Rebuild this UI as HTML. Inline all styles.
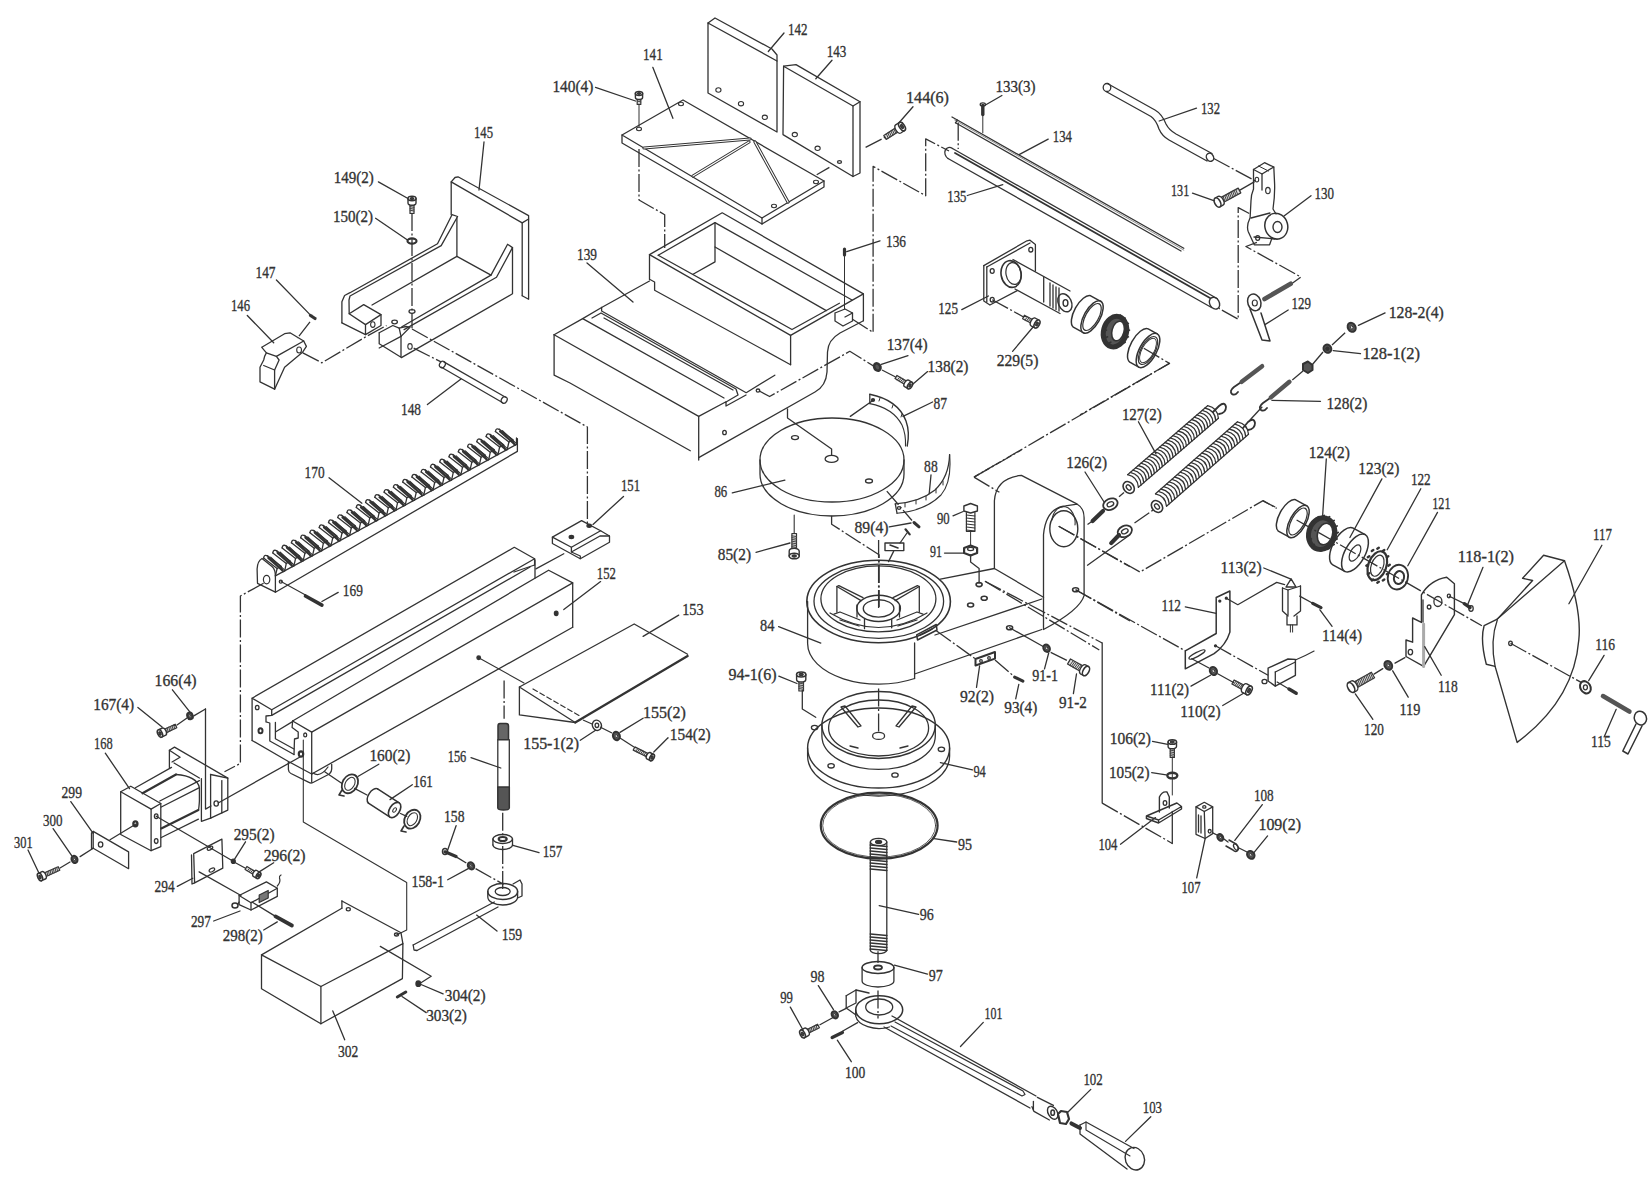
<!DOCTYPE html>
<html><head><meta charset="utf-8"><style>
html,body{margin:0;padding:0;background:#fff;width:1649px;height:1181px;overflow:hidden}
svg{display:block}
polyline,polygon,ellipse,path,line,circle{fill:none;stroke:#333;stroke-width:1.3;stroke-linejoin:round;stroke-linecap:round}
.d{stroke-dasharray:18 2.5 2 2.5;stroke-linecap:butt}
text{font-family:"Liberation Serif",serif;font-size:17px;fill:#333;stroke:#333;stroke-width:0.35px}
</style></head><body>
<svg width="1649" height="1181" viewBox="0 0 1649 1181">
<polygon points="708.0,23.0 777.0,61.0 777.0,132.0 708.0,93.0"/>
<polyline points="708.0,23.0 715.0,18.0 772.0,49.0 777.0,55.0 777.0,61.0"/>
<ellipse cx="718.4" cy="90" rx="2.6" ry="2.2" transform="rotate(0 718.4 90)" style="stroke-width:1.1"/>
<ellipse cx="741" cy="103.7" rx="2.6" ry="2.2" transform="rotate(0 741 103.7)" style="stroke-width:1.1"/>
<ellipse cx="764.8" cy="117.3" rx="2.6" ry="2.2" transform="rotate(0 764.8 117.3)" style="stroke-width:1.1"/>
<text x="788" y="35" textLength="19.5" lengthAdjust="spacingAndGlyphs">142</text>
<polyline points="784.0,33.0 768.3,51.5"/>
<polygon points="783.6,66.2 853.0,106.0 853.0,176.5 783.0,134.6"/>
<polyline points="783.6,66.2 796.0,64.6 860.0,101.7 860.0,173.0 853.0,176.5"/>
<polyline points="853.0,106.0 860.0,101.7"/>
<ellipse cx="794.8" cy="134.6" rx="2.6" ry="2.2" transform="rotate(0 794.8 134.6)" style="stroke-width:1.1"/>
<ellipse cx="817.6" cy="148.3" rx="2.6" ry="2.2" transform="rotate(0 817.6 148.3)" style="stroke-width:1.1"/>
<text x="826.7" y="57" textLength="19.6" lengthAdjust="spacingAndGlyphs">143</text>
<polyline points="832.0,60.2 815.8,78.8"/>
<polygon points="622.0,135.0 683.0,100.0 824.0,181.0 762.0,218.0"/>
<polyline points="622.0,135.0 622.0,143.0 762.0,224.0 824.0,187.0 824.0,181.0"/>
<polyline points="762.0,218.0 762.0,224.0"/>
<polyline points="644.0,148.0 750.0,139.0" style="stroke-width:3.2"/>
<polyline points="644.0,148.0 750.0,139.0" style="stroke-width:1.2;stroke:#fff"/>
<polyline points="693.0,176.0 749.0,142.0" style="stroke-width:3.2"/>
<polyline points="693.0,176.0 749.0,142.0" style="stroke-width:1.2;stroke:#fff"/>
<polyline points="755.0,142.0 788.0,202.0" style="stroke-width:3.2"/>
<polyline points="755.0,142.0 788.0,202.0" style="stroke-width:1.2;stroke:#fff"/>
<ellipse cx="681" cy="104" rx="2.5" ry="1.7" transform="rotate(0 681 104)" style="stroke-width:1.1"/>
<ellipse cx="639" cy="129" rx="2.5" ry="1.7" transform="rotate(0 639 129)" style="stroke-width:1.1"/>
<ellipse cx="816" cy="182" rx="2.5" ry="1.7" transform="rotate(0 816 182)" style="stroke-width:1.1"/>
<ellipse cx="774" cy="206" rx="2.5" ry="1.7" transform="rotate(0 774 206)" style="stroke-width:1.1"/>
<text x="643" y="60.4" textLength="19.7" lengthAdjust="spacingAndGlyphs">141</text>
<polyline points="652.8,67.3 672.9,118.3"/>
<polygon points="637.2,97.5 637.2,104.5 640.8,104.5 640.8,97.5" style="stroke-width:1.2;fill:#ddd"/>
<polyline points="637.2,99.3 640.8,100.1" style="stroke-width:1.0;stroke:#444"/>
<polyline points="637.2,101.1 640.8,101.9" style="stroke-width:1.0;stroke:#444"/>
<path d="M 635.4,93.5 L 635.4,97.5 A 2.0 3.6 90.0 0 0 642.6,97.5 L 642.6,93.5" style="stroke-width:1.4;fill:#fff"/>
<ellipse cx="639" cy="93.5" rx="2.0" ry="3.6" transform="rotate(90.0 639 93.5)" style="stroke-width:1.6;fill:#fff"/>
<ellipse cx="639" cy="93.5" rx="0.9" ry="1.6" transform="rotate(90.0 639 93.5)" style="stroke-width:1.2;fill:#444"/>
<polyline points="639.0,104.0 639.0,127.0" style="stroke-width:1"/>
<text x="552.4" y="91.5" textLength="40.9" lengthAdjust="spacingAndGlyphs">140(4)</text>
<polyline points="595.5,87.3 635.5,101.0"/>
<polyline class="d" points="639.0,149.0 639.0,200.0 664.7,214.7 664.7,248.0"/>
<text x="906" y="103" textLength="43.0" lengthAdjust="spacingAndGlyphs">144(6)</text>
<polyline points="913.0,106.7 899.0,122.7"/>
<polygon points="897.0,127.0 883.8,135.6 886.2,139.4 899.5,130.9" style="stroke-width:1.2;fill:#ddd"/>
<polyline points="895.5,128.0 897.3,132.3" style="stroke-width:1.0;stroke:#444"/>
<polyline points="894.0,129.0 895.8,133.3" style="stroke-width:1.0;stroke:#444"/>
<polyline points="892.4,129.9 894.3,134.2" style="stroke-width:1.0;stroke:#444"/>
<polyline points="890.9,130.9 892.8,135.2" style="stroke-width:1.0;stroke:#444"/>
<polyline points="889.4,131.9 891.2,136.2" style="stroke-width:1.0;stroke:#444"/>
<polyline points="887.9,132.9 889.7,137.2" style="stroke-width:1.0;stroke:#444"/>
<polyline points="886.4,133.9 888.2,138.2" style="stroke-width:1.0;stroke:#444"/>
<path d="M 899.4,122.5 L 895.6,124.9 A 2.6 4.8 147.1 0 0 900.8,133.0 L 904.6,130.5" style="stroke-width:1.4;fill:#fff"/>
<ellipse cx="902" cy="126.5" rx="2.6" ry="4.8" transform="rotate(147.1 902 126.5)" style="stroke-width:1.6;fill:#fff"/>
<ellipse cx="902" cy="126.5" rx="1.2" ry="2.2" transform="rotate(147.1 902 126.5)" style="stroke-width:1.2;fill:#444"/>
<polyline class="d" points="865.6,147.3 885.6,137.0"/>
<polyline class="d" points="816.7,174.7 829.4,167.4"/>
<ellipse cx="839.5" cy="162" rx="2" ry="1.4" transform="rotate(0 839.5 162)"/>
<polyline points="649.5,279.3 649.5,254.6 722.2,212.8 863.4,293.9 863.4,320.8"/>
<polyline points="649.5,254.6 790.6,335.4 863.4,293.9"/>
<polyline points="790.6,335.4 790.6,364.7"/>
<polyline points="658.2,255.3 715.0,222.6 852.0,300.0"/>
<polyline points="658.2,255.3 792.0,329.5 839.4,303.3"/>
<polyline points="715.0,222.6 715.0,261.9 693.0,274.2"/>
<polyline points="715.0,247.0 826.3,310.6"/>
<polyline points="649.5,279.3 654.6,282.0 654.6,290.2 790.6,364.7"/>
<polyline points="601.6,307.5 649.5,281.0"/>
<polyline points="601.6,307.5 601.6,311.0 746.2,392.7 774.8,375.2"/>
<polyline points="582.7,318.6 601.6,307.5"/>
<polyline points="554.1,334.7 582.7,318.6 724.0,398.0"/>
<polyline points="554.1,334.7 554.1,375.2 570.0,383.0 690.3,450.7"/>
<polyline points="554.1,334.7 698.7,416.4 726.0,401.8 726.0,406.0 746.0,395.0"/>
<polyline points="698.7,416.4 698.7,460.0"/>
<polyline points="592.0,318.0 601.0,313.0 736.0,389.0 738.0,395.0 726.0,402.0"/>
<polyline points="604.0,318.0 733.0,390.0"/>
<ellipse cx="724.5" cy="432.5" rx="1.8" ry="2.2" transform="rotate(0 724.5 432.5)"/>
<ellipse cx="758" cy="390.6" rx="1.8" ry="1.6" transform="rotate(0 758 390.6)"/>
<path d="M 863,321 L 840,333 Q 828,340 827.5,352 L 827,372 Q 826,386 815,392 L 698.7,457.6"/>
<polyline points="844.5,249.0 844.5,255.0" style="stroke-width:3.2"/>
<polyline points="844.5,255.0 844.5,309.0" style="stroke-width:1"/>
<text x="886" y="247" textLength="20.0" lengthAdjust="spacingAndGlyphs">136</text>
<polyline points="846.7,251.7 880.0,240.8"/>
<polyline points="835.0,313.0 845.0,309.0 852.5,313.0 852.5,321.0 843.0,326.0 835.0,321.0 835.0,313.0"/>
<polyline points="845.0,317.0 852.5,313.0"/>
<polyline class="d" points="852.5,319.3 873.1,332.4 873.1,166.4 925.7,195.7 925.7,138.9 949.0,151.0"/>
<text x="577" y="260" textLength="20.0" lengthAdjust="spacingAndGlyphs">139</text>
<polyline points="587.0,263.0 633.0,302.0"/>
<polyline class="d" points="758.8,390.8 769.6,396.5 849.8,351.3 876.6,367.9"/>
<polyline points="451.2,214.7 451.2,181.9 455.0,177.5 458.0,176.8 528.6,215.6 528.6,299.3 522.2,295.7"/>
<polyline points="451.2,181.9 522.2,222.9 522.2,295.7"/>
<polyline points="522.2,222.9 528.6,219.0"/>
<text x="474" y="138" textLength="19.0" lengthAdjust="spacingAndGlyphs">145</text>
<polyline points="484.0,142.0 479.0,190.0"/>
<polyline points="341.9,322.8 341.9,301.8 344.6,295.5 350.0,292.7 437.5,243.8 452.0,214.7 457.6,216.5 441.2,245.6 350.0,296.0 349.0,300.0 349.2,313.7"/>
<polyline points="456.9,218.0 456.9,256.4 491.0,275.1"/>
<polyline points="372.0,305.0 456.9,256.4"/>
<polyline points="341.9,322.8 365.5,334.6"/>
<polyline points="349.2,313.7 363.7,304.6 381.0,314.6 365.5,324.6 349.2,313.7"/>
<polyline points="365.5,324.6 365.5,334.6 381.0,325.5 381.0,314.6"/>
<ellipse cx="372.8" cy="324.6" rx="2.2" ry="2.8" transform="rotate(0 372.8 324.6)" style="stroke-width:1.1"/>
<polyline points="401.9,326.8 491.0,275.1 507.6,244.3 512.5,247.6 496.5,277.3 404.1,329.6"/>
<polyline points="512.5,247.6 512.5,293.8 401.4,357.6"/>
<polyline points="379.2,332.8 392.8,325.5 399.2,328.2 401.0,336.4 379.2,348.0"/>
<polyline points="379.2,332.8 379.2,343.7 401.0,357.3 401.0,336.4"/>
<polyline points="399.2,328.2 406.0,326.5 410.0,327.3 401.0,336.4"/>
<ellipse cx="394.6" cy="322" rx="2.8" ry="1.8" transform="rotate(0 394.6 322)"/>
<ellipse cx="410" cy="346.4" rx="2.2" ry="2.8" transform="rotate(0 410 346.4)" style="stroke-width:1.1"/>
<text x="333.8" y="182.8" textLength="40.0" lengthAdjust="spacingAndGlyphs">149(2)</text>
<polyline points="378.4,181.9 409.3,199.2"/>
<polygon points="410.0,203.0 410.0,213.5 414.0,213.5 414.0,203.0" style="stroke-width:1.2;fill:#ddd"/>
<polyline points="410.0,204.8 414.0,205.6" style="stroke-width:1.0;stroke:#444"/>
<polyline points="410.0,206.6 414.0,207.4" style="stroke-width:1.0;stroke:#444"/>
<polyline points="410.0,208.4 414.0,209.2" style="stroke-width:1.0;stroke:#444"/>
<polyline points="410.0,210.2 414.0,211.0" style="stroke-width:1.0;stroke:#444"/>
<path d="M 408.0,198.5 L 408.0,203.0 A 2.2 4.0 90.0 0 0 416.0,203.0 L 416.0,198.5" style="stroke-width:1.4;fill:#fff"/>
<ellipse cx="412" cy="198.5" rx="2.2" ry="4" transform="rotate(90.0 412 198.5)" style="stroke-width:1.6;fill:#fff"/>
<ellipse cx="412" cy="198.5" rx="1.0" ry="1.8" transform="rotate(90.0 412 198.5)" style="stroke-width:1.2;fill:#444"/>
<text x="332.9" y="222" textLength="40.0" lengthAdjust="spacingAndGlyphs">150(2)</text>
<polyline points="375.6,218.3 407.5,240.0"/>
<ellipse cx="412" cy="241" rx="4.5" ry="2.6" transform="rotate(0 412 241)" style="stroke-width:2.2"/>
<polyline class="d" points="412.0,213.0 412.0,328.2"/>
<ellipse cx="412" cy="311.5" rx="3" ry="1.8" transform="rotate(0 412 311.5)"/>
<polyline points="261.8,347.3 284.6,333.7 290.0,332.8 303.7,341.0 306.4,346.4 302.8,351.9 284.6,367.3 274.6,389.2 260.0,381.9 260.0,367.3 263.7,360.0 264.6,356.4 266.4,352.8 261.8,347.3"/>
<polyline points="266.4,352.8 276.4,356.4 279.1,360.0 274.6,370.0 274.6,389.2"/>
<polyline points="263.7,365.5 274.6,370.0"/>
<polyline points="276.4,356.4 303.7,341.0"/>
<ellipse cx="299.1" cy="350" rx="2.4" ry="3" transform="rotate(0 299.1 350)" style="stroke-width:1.1"/>
<text x="231" y="311" textLength="19.0" lengthAdjust="spacingAndGlyphs">146</text>
<polyline points="247.3,315.5 273.7,342.8"/>
<text x="255.5" y="277.5" textLength="20.0" lengthAdjust="spacingAndGlyphs">147</text>
<polyline points="276.4,280.0 310.0,314.6"/>
<polyline points="310.5,315.5 315.0,318.5" style="stroke-width:3.2"/>
<polyline class="d" points="310.0,321.8 297.3,338.2"/>
<polyline class="d" points="302.8,352.8 321.9,362.8 366.4,336.4 386.5,325.5"/>
<polyline points="443.8,361.9 505.6,397.3"/>
<polyline points="441.0,367.0 502.8,402.7"/>
<ellipse cx="504.2" cy="400" rx="2.8" ry="3.4" transform="rotate(30 504.2 400)"/>
<ellipse cx="442.4" cy="364.5" rx="2.8" ry="3.4" transform="rotate(30 442.4 364.5)"/>
<text x="401" y="414.6" textLength="20.0" lengthAdjust="spacingAndGlyphs">148</text>
<polyline points="427.4,404.6 461.0,379.1"/>
<polyline class="d" points="413.7,348.2 441.0,361.9"/>
<polyline class="d" points="412.0,329.0 587.4,427.0 587.4,524.0"/>
<path d="M 257.1,569 Q 257.5,561 262,558.5 L 272,566.5 Q 275.4,569.5 275.4,575.9 L 275.4,592.2 L 257.5,583.3 Z"/>
<ellipse cx="266.6" cy="579.6" rx="3.2" ry="4.2" transform="rotate(0 266.6 579.6)" style="stroke-width:1.2"/>
<polyline points="275.4,575.9 516.5,444.4 516.5,438.0"/>
<polyline points="275.4,592.2 517.4,451.4 517.4,438.6"/>
<ellipse cx="280.8" cy="581.7" rx="1.5" ry="1.5" transform="rotate(0 280.8 581.7)"/>
<polyline points="275.4,575.9 277.1,568.5 281.0,566.4 282.8,571.9 284.7,570.8" style="stroke-width:1.3"/>
<polyline points="277.1,568.5 263.6,558.0" style="stroke-width:1.3"/>
<polyline points="281.0,566.4 267.5,555.9" style="stroke-width:1.6"/>
<path d="M 263.6,558.0 Q 264.2,554.1 267.5,555.9" style="stroke-width:1.3"/>
<polyline points="282.5,570.4 268.3,557.9" style="stroke-width:2.2"/>
<polyline points="284.2,569.6 270.7,557.1" style="stroke-width:1.1"/>
<polyline points="284.7,570.8 286.3,563.4 290.2,561.3 292.1,566.8 293.9,565.8" style="stroke-width:1.3"/>
<polyline points="286.3,563.4 272.8,552.9" style="stroke-width:1.3"/>
<polyline points="290.2,561.3 276.7,550.8" style="stroke-width:1.6"/>
<path d="M 272.8,552.9 Q 273.4,549.0 276.7,550.8" style="stroke-width:1.3"/>
<polyline points="291.8,565.3 277.6,552.8" style="stroke-width:2.2"/>
<polyline points="293.5,564.5 280.0,552.0" style="stroke-width:1.1"/>
<polyline points="293.9,565.8 295.6,558.4 299.5,556.2 301.4,561.7 303.2,560.7" style="stroke-width:1.3"/>
<polyline points="295.6,558.4 282.1,547.9" style="stroke-width:1.3"/>
<polyline points="299.5,556.2 286.0,545.8" style="stroke-width:1.6"/>
<path d="M 282.1,547.9 Q 282.7,544.0 286.0,545.8" style="stroke-width:1.3"/>
<polyline points="301.1,560.2 286.9,547.7" style="stroke-width:2.2"/>
<polyline points="302.8,559.5 289.3,547.0" style="stroke-width:1.1"/>
<polyline points="303.2,560.7 304.9,553.3 308.8,551.2 310.6,556.7 312.5,555.7" style="stroke-width:1.3"/>
<polyline points="304.9,553.3 291.4,542.8" style="stroke-width:1.3"/>
<polyline points="308.8,551.2 295.3,540.7" style="stroke-width:1.6"/>
<path d="M 291.4,542.8 Q 292.0,538.9 295.3,540.7" style="stroke-width:1.3"/>
<polyline points="310.3,555.2 296.1,542.7" style="stroke-width:2.2"/>
<polyline points="312.0,554.4 298.5,541.9" style="stroke-width:1.1"/>
<polyline points="312.5,555.7 314.2,548.3 318.1,546.1 319.9,551.6 321.8,550.6" style="stroke-width:1.3"/>
<polyline points="314.2,548.3 300.7,537.8" style="stroke-width:1.3"/>
<polyline points="318.1,546.1 304.6,535.6" style="stroke-width:1.6"/>
<path d="M 300.7,537.8 Q 301.3,533.8 304.6,535.6" style="stroke-width:1.3"/>
<polyline points="319.6,550.1 305.4,537.6" style="stroke-width:2.2"/>
<polyline points="321.3,549.4 307.8,536.9" style="stroke-width:1.1"/>
<polyline points="321.8,550.6 323.4,543.2 327.3,541.1 329.2,546.6 331.0,545.6" style="stroke-width:1.3"/>
<polyline points="323.4,543.2 309.9,532.7" style="stroke-width:1.3"/>
<polyline points="327.3,541.1 313.8,530.6" style="stroke-width:1.6"/>
<path d="M 309.9,532.7 Q 310.5,528.8 313.8,530.6" style="stroke-width:1.3"/>
<polyline points="328.9,545.1 314.7,532.6" style="stroke-width:2.2"/>
<polyline points="330.6,544.3 317.1,531.8" style="stroke-width:1.1"/>
<polyline points="331.0,545.6 332.7,538.1 336.6,536.0 338.5,541.5 340.3,540.5" style="stroke-width:1.3"/>
<polyline points="332.7,538.1 319.2,527.6" style="stroke-width:1.3"/>
<polyline points="336.6,536.0 323.1,525.5" style="stroke-width:1.6"/>
<path d="M 319.2,527.6 Q 319.8,523.7 323.1,525.5" style="stroke-width:1.3"/>
<polyline points="338.2,540.0 324.0,527.5" style="stroke-width:2.2"/>
<polyline points="339.8,539.2 326.3,526.7" style="stroke-width:1.1"/>
<polyline points="340.3,540.5 342.0,533.1 345.9,531.0 347.7,536.4 349.6,535.4" style="stroke-width:1.3"/>
<polyline points="342.0,533.1 328.5,522.6" style="stroke-width:1.3"/>
<polyline points="345.9,531.0 332.4,520.5" style="stroke-width:1.6"/>
<path d="M 328.5,522.6 Q 329.1,518.7 332.4,520.5" style="stroke-width:1.3"/>
<polyline points="347.4,534.9 333.2,522.4" style="stroke-width:2.2"/>
<polyline points="349.1,534.2 335.6,521.7" style="stroke-width:1.1"/>
<polyline points="349.6,535.4 351.3,528.0 355.1,525.9 357.0,531.4 358.9,530.4" style="stroke-width:1.3"/>
<polyline points="351.3,528.0 337.8,517.5" style="stroke-width:1.3"/>
<polyline points="355.1,525.9 341.6,515.4" style="stroke-width:1.6"/>
<path d="M 337.8,517.5 Q 338.4,513.6 341.6,515.4" style="stroke-width:1.3"/>
<polyline points="356.7,529.9 342.5,517.4" style="stroke-width:2.2"/>
<polyline points="358.4,529.1 344.9,516.6" style="stroke-width:1.1"/>
<polyline points="358.9,530.4 360.5,523.0 364.4,520.8 366.3,526.3 368.1,525.3" style="stroke-width:1.3"/>
<polyline points="360.5,523.0 347.0,512.5" style="stroke-width:1.3"/>
<polyline points="364.4,520.8 350.9,510.3" style="stroke-width:1.6"/>
<path d="M 347.0,512.5 Q 347.6,508.6 350.9,510.3" style="stroke-width:1.3"/>
<polyline points="366.0,524.8 351.8,512.3" style="stroke-width:2.2"/>
<polyline points="367.7,524.1 354.2,511.6" style="stroke-width:1.1"/>
<polyline points="368.1,525.3 369.8,517.9 373.7,515.8 375.5,521.3 377.4,520.3" style="stroke-width:1.3"/>
<polyline points="369.8,517.9 356.3,507.4" style="stroke-width:1.3"/>
<polyline points="373.7,515.8 360.2,505.3" style="stroke-width:1.6"/>
<path d="M 356.3,507.4 Q 356.9,503.5 360.2,505.3" style="stroke-width:1.3"/>
<polyline points="375.2,519.8 361.0,507.3" style="stroke-width:2.2"/>
<polyline points="376.9,519.0 363.4,506.5" style="stroke-width:1.1"/>
<polyline points="377.4,520.3 379.1,512.9 383.0,510.7 384.8,516.2 386.7,515.2" style="stroke-width:1.3"/>
<polyline points="379.1,512.9 365.6,502.4" style="stroke-width:1.3"/>
<polyline points="383.0,510.7 369.5,500.2" style="stroke-width:1.6"/>
<path d="M 365.6,502.4 Q 366.2,498.4 369.5,500.2" style="stroke-width:1.3"/>
<polyline points="384.5,514.7 370.3,502.2" style="stroke-width:2.2"/>
<polyline points="386.2,514.0 372.7,501.5" style="stroke-width:1.1"/>
<polyline points="386.7,515.2 388.3,507.8 392.2,505.7 394.1,511.2 395.9,510.1" style="stroke-width:1.3"/>
<polyline points="388.3,507.8 374.8,497.3" style="stroke-width:1.3"/>
<polyline points="392.2,505.7 378.7,495.2" style="stroke-width:1.6"/>
<path d="M 374.8,497.3 Q 375.4,493.4 378.7,495.2" style="stroke-width:1.3"/>
<polyline points="393.8,509.7 379.6,497.2" style="stroke-width:2.2"/>
<polyline points="395.5,508.9 382.0,496.4" style="stroke-width:1.1"/>
<polyline points="395.9,510.1 397.6,502.7 401.5,500.6 403.4,506.1 405.2,505.1" style="stroke-width:1.3"/>
<polyline points="397.6,502.7 384.1,492.2" style="stroke-width:1.3"/>
<polyline points="401.5,500.6 388.0,490.1" style="stroke-width:1.6"/>
<path d="M 384.1,492.2 Q 384.7,488.3 388.0,490.1" style="stroke-width:1.3"/>
<polyline points="403.1,504.6 388.9,492.1" style="stroke-width:2.2"/>
<polyline points="404.8,503.8 391.3,491.3" style="stroke-width:1.1"/>
<polyline points="405.2,505.1 406.9,497.7 410.8,495.6 412.6,501.0 414.5,500.0" style="stroke-width:1.3"/>
<polyline points="406.9,497.7 393.4,487.2" style="stroke-width:1.3"/>
<polyline points="410.8,495.6 397.3,485.1" style="stroke-width:1.6"/>
<path d="M 393.4,487.2 Q 394.0,483.3 397.3,485.1" style="stroke-width:1.3"/>
<polyline points="412.3,499.5 398.1,487.0" style="stroke-width:2.2"/>
<polyline points="414.0,498.8 400.5,486.3" style="stroke-width:1.1"/>
<polyline points="414.5,500.0 416.2,492.6 420.1,490.5 421.9,496.0 423.8,495.0" style="stroke-width:1.3"/>
<polyline points="416.2,492.6 402.7,482.1" style="stroke-width:1.3"/>
<polyline points="420.1,490.5 406.6,480.0" style="stroke-width:1.6"/>
<path d="M 402.7,482.1 Q 403.3,478.2 406.6,480.0" style="stroke-width:1.3"/>
<polyline points="421.6,494.5 407.4,482.0" style="stroke-width:2.2"/>
<polyline points="423.3,493.7 409.8,481.2" style="stroke-width:1.1"/>
<polyline points="423.8,495.0 425.4,487.6 429.3,485.4 431.2,490.9 433.0,489.9" style="stroke-width:1.3"/>
<polyline points="425.4,487.6 411.9,477.1" style="stroke-width:1.3"/>
<polyline points="429.3,485.4 415.8,474.9" style="stroke-width:1.6"/>
<path d="M 411.9,477.1 Q 412.5,473.2 415.8,474.9" style="stroke-width:1.3"/>
<polyline points="430.9,489.4 416.7,476.9" style="stroke-width:2.2"/>
<polyline points="432.6,488.7 419.1,476.2" style="stroke-width:1.1"/>
<polyline points="433.0,489.9 434.7,482.5 438.6,480.4 440.5,485.9 442.3,484.9" style="stroke-width:1.3"/>
<polyline points="434.7,482.5 421.2,472.0" style="stroke-width:1.3"/>
<polyline points="438.6,480.4 425.1,469.9" style="stroke-width:1.6"/>
<path d="M 421.2,472.0 Q 421.8,468.1 425.1,469.9" style="stroke-width:1.3"/>
<polyline points="440.2,484.4 426.0,471.9" style="stroke-width:2.2"/>
<polyline points="441.9,483.6 428.4,471.1" style="stroke-width:1.1"/>
<polyline points="442.3,484.9 444.0,477.5 447.9,475.3 449.7,480.8 451.6,479.8" style="stroke-width:1.3"/>
<polyline points="444.0,477.5 430.5,467.0" style="stroke-width:1.3"/>
<polyline points="447.9,475.3 434.4,464.8" style="stroke-width:1.6"/>
<path d="M 430.5,467.0 Q 431.1,463.0 434.4,464.8" style="stroke-width:1.3"/>
<polyline points="449.4,479.3 435.2,466.8" style="stroke-width:2.2"/>
<polyline points="451.1,478.6 437.6,466.1" style="stroke-width:1.1"/>
<polyline points="451.6,479.8 453.3,472.4 457.2,470.3 459.0,475.8 460.9,474.7" style="stroke-width:1.3"/>
<polyline points="453.3,472.4 439.8,461.9" style="stroke-width:1.3"/>
<polyline points="457.2,470.3 443.7,459.8" style="stroke-width:1.6"/>
<path d="M 439.8,461.9 Q 440.4,458.0 443.7,459.8" style="stroke-width:1.3"/>
<polyline points="458.7,474.3 444.5,461.8" style="stroke-width:2.2"/>
<polyline points="460.4,473.5 446.9,461.0" style="stroke-width:1.1"/>
<polyline points="460.9,474.7 462.5,467.3 466.4,465.2 468.3,470.7 470.1,469.7" style="stroke-width:1.3"/>
<polyline points="462.5,467.3 449.0,456.8" style="stroke-width:1.3"/>
<polyline points="466.4,465.2 452.9,454.7" style="stroke-width:1.6"/>
<path d="M 449.0,456.8 Q 449.6,452.9 452.9,454.7" style="stroke-width:1.3"/>
<polyline points="468.0,469.2 453.8,456.7" style="stroke-width:2.2"/>
<polyline points="469.7,468.4 456.2,455.9" style="stroke-width:1.1"/>
<polyline points="470.1,469.7 471.8,462.3 475.7,460.2 477.6,465.6 479.4,464.6" style="stroke-width:1.3"/>
<polyline points="471.8,462.3 458.3,451.8" style="stroke-width:1.3"/>
<polyline points="475.7,460.2 462.2,449.7" style="stroke-width:1.6"/>
<path d="M 458.3,451.8 Q 458.9,447.9 462.2,449.7" style="stroke-width:1.3"/>
<polyline points="477.3,464.1 463.1,451.6" style="stroke-width:2.2"/>
<polyline points="478.9,463.4 465.4,450.9" style="stroke-width:1.1"/>
<polyline points="479.4,464.6 481.1,457.2 485.0,455.1 486.8,460.6 488.7,459.6" style="stroke-width:1.3"/>
<polyline points="481.1,457.2 467.6,446.7" style="stroke-width:1.3"/>
<polyline points="485.0,455.1 471.5,444.6" style="stroke-width:1.6"/>
<path d="M 467.6,446.7 Q 468.2,442.8 471.5,444.6" style="stroke-width:1.3"/>
<polyline points="486.5,459.1 472.3,446.6" style="stroke-width:2.2"/>
<polyline points="488.2,458.3 474.7,445.8" style="stroke-width:1.1"/>
<polyline points="488.7,459.6 490.3,452.2 494.2,450.0 496.1,455.5 498.0,454.5" style="stroke-width:1.3"/>
<polyline points="490.3,452.2 476.8,441.7" style="stroke-width:1.3"/>
<polyline points="494.2,450.0 480.7,439.5" style="stroke-width:1.6"/>
<path d="M 476.8,441.7 Q 477.4,437.8 480.7,439.5" style="stroke-width:1.3"/>
<polyline points="495.8,454.0 481.6,441.5" style="stroke-width:2.2"/>
<polyline points="497.5,453.3 484.0,440.8" style="stroke-width:1.1"/>
<polyline points="498.0,454.5 499.6,447.1 503.5,445.0 505.4,450.5 507.2,449.5" style="stroke-width:1.3"/>
<polyline points="499.6,447.1 486.1,436.6" style="stroke-width:1.3"/>
<polyline points="503.5,445.0 490.0,434.5" style="stroke-width:1.6"/>
<path d="M 486.1,436.6 Q 486.7,432.7 490.0,434.5" style="stroke-width:1.3"/>
<polyline points="505.1,449.0 490.9,436.5" style="stroke-width:2.2"/>
<polyline points="506.8,448.2 493.3,435.7" style="stroke-width:1.1"/>
<polyline points="507.2,449.5 508.9,442.0 512.8,439.9 514.6,445.4 516.5,444.4" style="stroke-width:1.3"/>
<polyline points="508.9,442.0 495.4,431.5" style="stroke-width:1.3"/>
<polyline points="512.8,439.9 499.3,429.4" style="stroke-width:1.6"/>
<path d="M 495.4,431.5 Q 496.0,427.6 499.3,429.4" style="stroke-width:1.3"/>
<polyline points="514.3,443.9 500.1,431.4" style="stroke-width:2.2"/>
<polyline points="516.0,443.2 502.5,430.7" style="stroke-width:1.1"/>
<text x="304.6" y="477.8" textLength="20.0" lengthAdjust="spacingAndGlyphs">170</text>
<polyline points="329.0,477.8 361.9,503.2"/>
<polyline points="305.5,596.0 321.9,605.1" style="stroke-width:3.6"/>
<polyline points="281.0,581.5 305.5,595.0" style="stroke-width:1.1"/>
<text x="342.8" y="596" textLength="20.0" lengthAdjust="spacingAndGlyphs">169</text>
<polyline points="338.2,592.4 321.9,601.5"/>
<polyline class="d" points="263.6,583.3 240.4,596.0 240.4,763.4 224.5,771.8"/>
<polyline points="552.4,537.1 581.6,520.6 600.6,530.8 571.4,547.3 552.4,537.1"/>
<polyline points="552.4,537.1 552.4,543.5 580.3,558.7 609.5,542.2 609.5,536.0 600.6,530.8"/>
<polyline points="571.4,547.3 571.4,552.0 580.3,556.0 580.3,558.7"/>
<polyline points="571.4,552.0 600.0,536.0 609.5,536.0"/>
<ellipse cx="589.2" cy="525.7" rx="2.2" ry="1.6" transform="rotate(0 589.2 525.7)" style="fill:#333"/>
<ellipse cx="571.4" cy="537.1" rx="2.2" ry="1.6" transform="rotate(0 571.4 537.1)" style="fill:#333"/>
<text x="621" y="491.4" textLength="19.0" lengthAdjust="spacingAndGlyphs">151</text>
<polyline points="623.5,496.5 593.0,524.4"/>
<polyline points="563.8,553.7 535.9,568.9"/>
<polyline points="252.1,740.5 252.1,698.2 514.3,547.3 534.6,558.7 534.6,565.0"/>
<polyline points="252.1,698.2 271.7,709.8 534.6,558.7"/>
<polyline points="271.7,709.8 271.7,715.4 266.0,716.0 266.0,721.9 269.8,723.0 269.8,741.0 294.0,754.5"/>
<polyline points="275.4,722.4 275.4,738.7 294.0,749.0"/>
<polyline points="271.7,715.4 530.0,567.0"/>
<polyline points="275.8,731.7 292.1,721.9"/>
<polyline points="292.6,721.0 548.6,570.2 572.7,582.9 572.7,627.3"/>
<polyline points="292.6,721.0 311.7,732.1 572.7,582.9"/>
<polyline points="292.6,721.0 292.1,727.5 298.2,732.0 298.2,738.0 294.5,739.0 294.0,754.5"/>
<polyline points="311.7,732.1 311.7,774.0"/>
<polyline points="311.7,774.0 572.7,627.3"/>
<polyline points="252.1,740.5 288.4,761.5 311.7,774.0"/>
<polyline points="514.0,572.0 534.6,565.0"/>
<polyline points="535.0,560.0 535.0,578.0"/>
<ellipse cx="556.2" cy="613.3" rx="1.8" ry="2.2" transform="rotate(0 556.2 613.3)" style="fill:#333"/>
<ellipse cx="478.7" cy="657.8" rx="1.8" ry="1.8" transform="rotate(0 478.7 657.8)" style="fill:#333"/>
<ellipse cx="257.2" cy="707.5" rx="1.8" ry="2.2" transform="rotate(0 257.2 707.5)"/>
<ellipse cx="260.5" cy="730.7" rx="2" ry="2.5" transform="rotate(0 260.5 730.7)" style="stroke-width:2"/>
<ellipse cx="305.2" cy="734.9" rx="1.5" ry="1.9" transform="rotate(0 305.2 734.9)"/>
<ellipse cx="301" cy="754" rx="2.2" ry="2.6" transform="rotate(0 301 754)" style="stroke-width:2.2"/>
<text x="596.8" y="579" textLength="19.1" lengthAdjust="spacingAndGlyphs">152</text>
<polyline points="600.6,581.6 563.8,609.5"/>
<path d="M 288.4,762 L 288.4,769.4 Q 288.5,772 291,773.5 L 308.9,782.4 Q 311,783.5 313,782.5 L 329.4,774 Q 331.7,772 331.7,769 L 331.7,764.3"/>
<path d="M 313,773 Q 320,778 328,767" style="stroke-width:1.2"/>
<polyline points="311.7,774.0 311.7,782.0"/>
<polyline points="575.2,722.5 519.4,687.0 634.2,624.0 687.6,654.2"/>
<polyline points="575.2,722.5 687.6,656.0" style="stroke-width:2.3"/>
<polyline points="519.4,687.0 519.4,714.9 575.2,722.5"/>
<polyline points="478.7,657.8 524.0,683.0" style="stroke-width:1.1"/>
<polyline points="533,689 580,716" style="stroke-dasharray:5 3;stroke-width:1.2"/>
<polyline class="d" points="583.0,720.0 592.0,724.0"/>
<text x="682.2" y="615.1" textLength="21.4" lengthAdjust="spacingAndGlyphs">153</text>
<polyline points="678.7,615.1 643.1,636.4"/>
<ellipse cx="596.9" cy="725.3" rx="4.5" ry="5.2" transform="rotate(-20 596.9 725.3)" style="stroke-width:1.4"/>
<ellipse cx="596.9" cy="725.3" rx="1.8" ry="2.2" transform="rotate(0 596.9 725.3)"/>
<ellipse cx="616.4" cy="736" rx="3.4" ry="4.2" transform="rotate(-20 616.4 736)" style="stroke-width:2;fill:#555"/>
<ellipse cx="616.4" cy="736" rx="1.2" ry="1.5" transform="rotate(-20 616.4 736)" style="stroke-width:0.8;fill:#ddd"/>
<polygon points="649.2,754.1 634.8,746.9 633.2,750.1 647.6,757.3" style="stroke-width:1.2;fill:#ddd"/>
<polyline points="647.6,753.3 645.3,756.2" style="stroke-width:1.0;stroke:#444"/>
<polyline points="646.0,752.5 643.7,755.4" style="stroke-width:1.0;stroke:#444"/>
<polyline points="644.4,751.7 642.1,754.5" style="stroke-width:1.0;stroke:#444"/>
<polyline points="642.8,750.9 640.5,753.7" style="stroke-width:1.0;stroke:#444"/>
<polyline points="641.2,750.1 638.9,752.9" style="stroke-width:1.0;stroke:#444"/>
<polyline points="639.6,749.3 637.2,752.1" style="stroke-width:1.0;stroke:#444"/>
<polyline points="638.0,748.5 635.6,751.3" style="stroke-width:1.0;stroke:#444"/>
<path d="M 653.6,754.3 L 650.0,752.5 A 2.0 3.6 -153.4 0 0 646.8,758.9 L 650.4,760.7" style="stroke-width:1.4;fill:#fff"/>
<ellipse cx="652" cy="757.5" rx="2.0" ry="3.6" transform="rotate(-153.4 652 757.5)" style="stroke-width:1.6;fill:#fff"/>
<ellipse cx="652" cy="757.5" rx="0.9" ry="1.6" transform="rotate(-153.4 652 757.5)" style="stroke-width:1.2;fill:#444"/>
<polyline class="d" points="600.0,727.0 612.0,733.0"/>
<polyline class="d" points="620.0,738.0 634.0,747.0"/>
<text x="523.2" y="749.2" textLength="55.8" lengthAdjust="spacingAndGlyphs">155-1(2)</text>
<polyline points="580.3,740.3 595.6,730.2"/>
<text x="643.1" y="718.2" textLength="42.7" lengthAdjust="spacingAndGlyphs">155(2)</text>
<polyline points="643.1,718.2 620.0,732.4"/>
<text x="669.8" y="739.6" textLength="40.9" lengthAdjust="spacingAndGlyphs">154(2)</text>
<polyline points="668.0,737.8 653.8,752.0"/>
<polyline points="120.7,791.8 130.8,786.2 160.8,803.5 160.8,846.7 151.1,850.7 120.7,834.5 120.7,791.8"/>
<polyline points="120.7,791.8 151.1,809.1 151.1,850.7"/>
<polyline points="151.1,809.1 160.8,803.5"/>
<ellipse cx="156.2" cy="816.2" rx="1.8" ry="2.4" transform="rotate(0 156.2 816.2)"/>
<ellipse cx="156.2" cy="841.1" rx="1.8" ry="2.4" transform="rotate(0 156.2 841.1)"/>
<ellipse cx="135.4" cy="823.8" rx="2" ry="2.4" transform="rotate(0 135.4 823.8)" style="stroke-width:2.4"/>
<polyline points="135.4,787.7 171.5,767.4"/>
<polyline points="142.5,793.3 176.0,774.5" style="stroke-width:2.2"/>
<polyline points="159.8,801.0 199.4,780.6"/>
<polyline points="161.3,807.0 199.4,787.7"/>
<polyline points="161.3,828.4 198.4,810.1" style="stroke-width:2.2"/>
<polyline points="161.3,837.5 198.4,819.2"/>
<path d="M 176,774.5 Q 197,776 199.4,787.7 L 199.4,801 Q 199,808 198.4,810.1"/>
<polyline points="169.4,767.4 169.4,750.2 174.5,747.1 227.8,778.1 227.8,810.1 210.6,818.2"/>
<polyline points="169.4,750.2 180.1,757.3 172.0,762.0"/>
<polyline points="174.0,763.0 199.4,778.0"/>
<polyline points="201.4,778.6 201.4,821.3 210.6,818.2"/>
<polyline points="210.6,774.5 210.6,818.2"/>
<polyline points="221.8,780.6 221.8,813.1"/>
<polyline points="210.6,774.5 227.8,778.1"/>
<ellipse cx="216.2" cy="803.5" rx="2.2" ry="2.6" transform="rotate(0 216.2 803.5)"/>
<polyline points="218.2,803.0 300.0,757.0"/>
<polyline points="156.2,816.2 232.8,861.0"/>
<polyline points="205.5,709.0 205.5,809.1 211.0,806.0"/>
<polyline points="205.5,709.0 193.8,715.9"/>
<text x="94.1" y="748.5" textLength="18.6" lengthAdjust="spacingAndGlyphs">168</text>
<polyline points="105.3,753.2 129.5,788.6"/>
<polygon points="164.9,733.4 176.8,727.8 175.2,724.2 163.2,729.8" style="stroke-width:1.2;fill:#ddd"/>
<polyline points="166.6,732.6 165.6,728.7" style="stroke-width:1.0;stroke:#444"/>
<polyline points="168.2,731.9 167.2,727.9" style="stroke-width:1.0;stroke:#444"/>
<polyline points="169.8,731.1 168.8,727.1" style="stroke-width:1.0;stroke:#444"/>
<polyline points="171.4,730.3 170.5,726.4" style="stroke-width:1.0;stroke:#444"/>
<polyline points="173.1,729.6 172.1,725.6" style="stroke-width:1.0;stroke:#444"/>
<polyline points="174.7,728.8 173.7,724.9" style="stroke-width:1.0;stroke:#444"/>
<path d="M 161.7,737.1 L 165.8,735.2 A 2.2 4.0 -25.1 0 0 162.4,728.0 L 158.3,729.9" style="stroke-width:1.4;fill:#fff"/>
<ellipse cx="160" cy="733.5" rx="2.2" ry="4" transform="rotate(-25.1 160 733.5)" style="stroke-width:1.6;fill:#fff"/>
<ellipse cx="160" cy="733.5" rx="1.0" ry="1.8" transform="rotate(-25.1 160 733.5)" style="stroke-width:1.2;fill:#444"/>
<polyline points="177.0,725.0 187.0,718.0"/>
<ellipse cx="190" cy="715.9" rx="2.7" ry="3.4" transform="rotate(-20 190 715.9)" style="stroke-width:2;fill:#555"/>
<ellipse cx="190" cy="715.9" rx="1.0" ry="1.2" transform="rotate(-20 190 715.9)" style="stroke-width:0.8;fill:#ddd"/>
<text x="154.6" y="686" textLength="42.0" lengthAdjust="spacingAndGlyphs">166(4)</text>
<polyline points="172.4,689.8 190.0,712.2"/>
<text x="93.2" y="710.3" textLength="41.0" lengthAdjust="spacingAndGlyphs">167(4)</text>
<polyline points="137.9,707.5 162.1,727.0"/>
<polygon points="93.2,831.4 128.6,851.9 128.6,868.7 93.2,848.2"/>
<polyline points="93.2,831.4 91.5,833.0 91.5,849.0 93.2,848.2"/>
<ellipse cx="100.6" cy="844.5" rx="2.2" ry="2.6" transform="rotate(0 100.6 844.5)"/>
<polyline points="110.0,839.8 136.0,824.0"/>
<text x="61.5" y="797.9" textLength="20.5" lengthAdjust="spacingAndGlyphs">299</text>
<polyline points="70.8,801.6 93.2,833.3"/>
<ellipse cx="74.5" cy="859.4" rx="2.9" ry="3.7" transform="rotate(-20 74.5 859.4)" style="stroke-width:2;fill:#555"/>
<ellipse cx="74.5" cy="859.4" rx="1.0" ry="1.3" transform="rotate(-20 74.5 859.4)" style="stroke-width:0.8;fill:#ddd"/>
<polyline points="80.1,856.6 93.2,848.2"/>
<text x="42.9" y="825.8" textLength="19.5" lengthAdjust="spacingAndGlyphs">300</text>
<polyline points="53.1,828.6 71.7,855.6"/>
<polygon points="44.5,877.2 59.8,870.3 58.2,866.7 42.8,873.5" style="stroke-width:1.2;fill:#ddd"/>
<polyline points="46.1,876.5 45.2,872.5" style="stroke-width:1.0;stroke:#444"/>
<polyline points="47.8,875.7 46.9,871.7" style="stroke-width:1.0;stroke:#444"/>
<polyline points="49.4,875.0 48.5,871.0" style="stroke-width:1.0;stroke:#444"/>
<polyline points="51.0,874.3 50.1,870.3" style="stroke-width:1.0;stroke:#444"/>
<polyline points="52.7,873.5 51.8,869.5" style="stroke-width:1.0;stroke:#444"/>
<polyline points="54.3,872.8 53.4,868.8" style="stroke-width:1.0;stroke:#444"/>
<polyline points="56.0,872.0 55.1,868.1" style="stroke-width:1.0;stroke:#444"/>
<polyline points="57.6,871.3 56.7,867.3" style="stroke-width:1.0;stroke:#444"/>
<path d="M 41.6,880.7 L 45.3,879.0 A 2.2 4.0 -24.1 0 0 42.0,871.7 L 38.4,873.3" style="stroke-width:1.4;fill:#fff"/>
<ellipse cx="40" cy="877" rx="2.2" ry="4" transform="rotate(-24.1 40 877)" style="stroke-width:1.6;fill:#fff"/>
<ellipse cx="40" cy="877" rx="1.0" ry="1.8" transform="rotate(-24.1 40 877)" style="stroke-width:1.2;fill:#444"/>
<polyline points="60.0,868.0 70.0,862.0"/>
<text x="14" y="848.2" textLength="18.6" lengthAdjust="spacingAndGlyphs">301</text>
<polyline points="28.0,850.0 39.0,873.3"/>
<polygon points="193.7,853.7 221.9,839.1 222.8,868.2 194.6,882.8"/>
<polyline points="191.5,855.0 192.0,884.0 194.6,882.8"/>
<ellipse cx="210" cy="848.2" rx="3" ry="1.6" transform="rotate(-28 210 848.2)" style="stroke-width:1.2"/>
<ellipse cx="211.9" cy="870" rx="3" ry="1.6" transform="rotate(-28 211.9 870)" style="stroke-width:1.2"/>
<text x="154.5" y="891.9" textLength="20.1" lengthAdjust="spacingAndGlyphs">294</text>
<polyline points="177.3,886.4 192.8,878.2"/>
<ellipse cx="233.3" cy="861.2" rx="2" ry="2.2" transform="rotate(0 233.3 861.2)" style="stroke-width:1.2;fill:#333"/>
<polyline points="234.0,862.0 246.0,868.5"/>
<polygon points="255.9,872.0 246.9,866.5 245.1,869.5 254.2,874.9" style="stroke-width:1.2;fill:#ddd"/>
<polyline points="254.4,871.1 252.0,873.6" style="stroke-width:1.0;stroke:#444"/>
<polyline points="252.9,870.1 250.4,872.6" style="stroke-width:1.0;stroke:#444"/>
<polyline points="251.3,869.2 248.9,871.7" style="stroke-width:1.0;stroke:#444"/>
<polyline points="249.8,868.3 247.3,870.8" style="stroke-width:1.0;stroke:#444"/>
<path d="M 260.2,872.6 L 256.8,870.5 A 1.9 3.4 -149.0 0 0 253.3,876.4 L 256.8,878.4" style="stroke-width:1.4;fill:#fff"/>
<ellipse cx="258.5" cy="875.5" rx="1.9" ry="3.4" transform="rotate(-149.0 258.5 875.5)" style="stroke-width:1.6;fill:#fff"/>
<ellipse cx="258.5" cy="875.5" rx="0.8" ry="1.5" transform="rotate(-149.0 258.5 875.5)" style="stroke-width:1.2;fill:#444"/>
<text x="233.7" y="840" textLength="40.9" lengthAdjust="spacingAndGlyphs">295(2)</text>
<polyline points="245.5,841.8 234.6,859.1"/>
<text x="263.7" y="861" textLength="41.8" lengthAdjust="spacingAndGlyphs">296(2)</text>
<polyline points="273.7,862.8 259.2,871.9"/>
<polyline points="199.1,871.9 241.0,895.5"/>
<polyline points="252.0,902.0 275.5,916.4"/>
<polyline points="275.5,916.4 291.9,925.5" style="stroke-width:3.8"/>
<text x="222.8" y="941" textLength="40.0" lengthAdjust="spacingAndGlyphs">298(2)</text>
<polyline points="263.7,930.0 277.3,921.9"/>
<polyline points="239.1,895.5 266.4,881.9 277.3,888.2 251.0,902.8 239.1,895.5"/>
<polyline points="239.1,895.5 239.1,904.6 251.0,910.0 277.3,896.4 277.3,888.2"/>
<polyline points="251.0,902.8 251.0,910.0"/>
<path d="M 259.2,895 L 268.2,890.5 L 268.2,898 L 259.2,902.5 Z" style="stroke-width:1.2;fill:#777"/>
<ellipse cx="235" cy="905.5" rx="3" ry="2.5" transform="rotate(0 235 905.5)" style="stroke-width:1.5"/>
<polyline points="238.0,904.0 239.1,902.0"/>
<path d="M 277.3,886 Q 281,882 279.5,878 Q 279,876 281,875" style="stroke-width:1.2"/>
<text x="190.9" y="927.3" textLength="20.0" lengthAdjust="spacingAndGlyphs">297</text>
<polyline points="213.7,921.0 240.0,911.0"/>
<polyline points="261.5,954.9 341.9,908.2"/>
<polyline points="261.5,954.9 261.5,988.8 320.9,1023.8 402.4,978.6 402.9,943.7 320.9,986.5 261.5,954.9"/>
<polyline points="320.9,986.5 320.9,1023.8"/>
<polyline points="341.9,901.0 341.9,908.2"/>
<polyline points="341.9,901.0 401.0,932.8 402.9,943.7"/>
<ellipse cx="348.3" cy="909.2" rx="2" ry="1.6" transform="rotate(0 348.3 909.2)"/>
<ellipse cx="396.5" cy="934.6" rx="2" ry="1.6" transform="rotate(0 396.5 934.6)"/>
<text x="337.9" y="1056.7" textLength="20.3" lengthAdjust="spacingAndGlyphs">302</text>
<polyline points="344.7,1039.8 332.8,1010.9"/>
<polyline points="303.3,740.0 303.3,822.0 406.7,882.5 406.7,930.0 395.5,935.6" style="stroke-width:1.1"/>
<polyline points="380.3,946.4 431.2,976.3 419.4,983.7"/>
<ellipse cx="418.3" cy="983.7" rx="2" ry="2.4" transform="rotate(0 418.3 983.7)" style="stroke-width:2;fill:#333"/>
<polyline points="397.3,997.0 405.8,992.0" style="stroke-width:3"/>
<text x="444.8" y="1000.7" textLength="40.8" lengthAdjust="spacingAndGlyphs">304(2)</text>
<polyline points="443.1,993.9 421.0,984.5"/>
<text x="426.2" y="1021" textLength="40.7" lengthAdjust="spacingAndGlyphs">303(2)</text>
<polyline points="426.2,1012.6 402.0,996.5"/>
<polyline points="497.8,739.7 497.8,787.1"/>
<polyline points="509.3,739.7 509.3,787.1"/>
<path d="M 498,739.7 L 498,726 Q 498,723.5 500,723.5 L 506,723.5 Q 508.5,723.5 508.5,726 L 508.5,739.7 Z" style="stroke-width:1.5;fill:#666"/>
<path d="M 497.8,787.1 L 509.3,787.1 L 509.3,808 Q 509,810.1 503.5,810.1 Q 498,810.1 497.8,808 Z" style="stroke-width:1.5;fill:#555"/>
<polyline class="d" points="504.1,680.6 504.1,718.7"/>
<polyline class="d" points="502.7,812.7 502.7,836.9"/>
<polyline class="d" points="502.7,846.0 502.7,889.0"/>
<text x="447.7" y="762.4" textLength="18.6" lengthAdjust="spacingAndGlyphs">156</text>
<polyline points="471.0,757.7 500.8,768.0"/>
<ellipse cx="502.7" cy="839" rx="9.8" ry="4.5" transform="rotate(0 502.7 839)" style="stroke-width:1.4"/>
<ellipse cx="502.7" cy="839" rx="4" ry="2" transform="rotate(0 502.7 839)" style="stroke-width:2.2"/>
<polyline points="492.9,839.0 492.9,845.0"/>
<polyline points="512.5,839.0 512.5,845.0"/>
<path d="M 492.9,845 A 9.8 4.5 0 0 0 512.5,845"/>
<text x="542.7" y="856.5" textLength="19.6" lengthAdjust="spacingAndGlyphs">157</text>
<polyline points="539.0,852.7 512.9,845.3"/>
<polyline points="445.0,851.8 456.1,856.5" style="stroke-width:3.2"/>
<ellipse cx="445" cy="851.5" rx="2.5" ry="3" transform="rotate(0 445 851.5)" style="stroke-width:1.5"/>
<text x="444" y="822" textLength="20.5" lengthAdjust="spacingAndGlyphs">158</text>
<polyline points="456.1,825.7 447.7,850.0"/>
<ellipse cx="471" cy="865.8" rx="3.0" ry="3.8" transform="rotate(-30 471 865.8)" style="stroke-width:2;fill:#555"/>
<ellipse cx="471" cy="865.8" rx="1.0" ry="1.3" transform="rotate(-30 471 865.8)" style="stroke-width:0.8;fill:#ddd"/>
<polyline class="d" points="457.0,857.4 466.3,863.0"/>
<polyline class="d" points="475.6,868.6 503.6,884.4"/>
<text x="411.4" y="887.2" textLength="32.6" lengthAdjust="spacingAndGlyphs">158-1</text>
<polyline points="447.7,879.7 468.2,868.6"/>
<ellipse cx="502.7" cy="891.5" rx="14.9" ry="8" transform="rotate(0 502.7 891.5)" style="stroke-width:1.5"/>
<ellipse cx="502.7" cy="891.5" rx="7.5" ry="4" transform="rotate(0 502.7 891.5)" style="stroke-width:1.3"/>
<path d="M 487.8,891.5 L 487.8,897 A 14.9 8 0 0 0 517.6,897 L 517.6,891.5"/>
<polyline points="513.0,884.0 520.0,880.0 522.0,884.0 522.0,896.0 517.6,898.0"/>
<polyline points="494.3,902.0 413.2,945.0"/>
<polyline points="498.0,907.0 417.0,950.5"/>
<polyline points="413.2,945.0 414.0,950.0 417.0,950.5"/>
<text x="501.7" y="940.3" textLength="20.5" lengthAdjust="spacingAndGlyphs">159</text>
<polyline points="497.0,931.0 476.6,915.1"/>
<ellipse cx="349.9" cy="783.8" rx="7.5" ry="10" transform="rotate(30 349.9 783.8)" style="stroke-width:1.8"/>
<ellipse cx="349.9" cy="783.8" rx="4.5" ry="7" transform="rotate(30 349.9 783.8)" style="stroke-width:1.1"/>
<polyline points="342.0,790.0 339.0,795.0 344.0,796.0" style="stroke-width:1.6"/>
<path d="M 377.6,788.9 L 399.2,802.9 M 368.4,803.1 L 390,817.1" style="stroke-width:1.5"/>
<path d="M 377.6,788.9 A 5 8.5 33 0 0 368.4,803.1" style="stroke-width:1.5"/>
<ellipse cx="394.6" cy="810" rx="5" ry="8.5" transform="rotate(33 394.6 810)" style="stroke-width:1.6;fill:#fff"/>
<ellipse cx="394.6" cy="810" rx="1.5" ry="2.5" transform="rotate(33 394.6 810)" style="stroke-width:1"/>
<ellipse cx="412.3" cy="819.2" rx="7.5" ry="10" transform="rotate(30 412.3 819.2)" style="stroke-width:1.8"/>
<ellipse cx="412.3" cy="819.2" rx="4.5" ry="7" transform="rotate(30 412.3 819.2)" style="stroke-width:1.1"/>
<polyline points="404.0,826.0 401.0,831.0 406.0,832.0" style="stroke-width:1.6"/>
<polyline points="324.7,771.7 342.4,783.8"/>
<polyline points="354.5,788.4 367.0,795.0"/>
<polyline points="400.5,813.5 406.7,816.4"/>
<text x="369.4" y="761.4" textLength="41.0" lengthAdjust="spacingAndGlyphs">160(2)</text>
<polyline points="378.8,764.2 358.3,776.3"/>
<text x="413.2" y="786.6" textLength="19.6" lengthAdjust="spacingAndGlyphs">161</text>
<polyline points="412.3,784.7 390.0,799.6"/>
<ellipse cx="832" cy="460" rx="72" ry="42" transform="rotate(0 832 460)"/>
<path d="M 760,460 L 760,474 A 72 42 0 0 0 904,474 L 904,460"/>
<ellipse cx="831.6" cy="458.9" rx="6.5" ry="3.5" transform="rotate(0 831.6 458.9)"/>
<ellipse cx="795" cy="437.6" rx="3.5" ry="2" transform="rotate(0 795 437.6)"/>
<ellipse cx="869" cy="481" rx="3.5" ry="2" transform="rotate(0 869 481)"/>
<polyline points="787.5,408.8 787.5,418.0 831.6,449.0 831.6,455.0"/>
<polyline class="d" points="831.6,515.8 831.6,524.2 879.1,554.8 879.1,607.0"/>
<text x="714.4" y="497" textLength="12.8" lengthAdjust="spacingAndGlyphs">86</text>
<polyline points="732.3,492.8 784.9,480.1"/>
<path d="M 869.8,394.3 Q 898,400 906,421 Q 910,432 907.2,446" style="stroke-width:1.4"/>
<path d="M 869.8,403.6 Q 893,408 902,425 Q 906,434 905.5,446" style="stroke-width:1.1"/>
<polyline points="869.8,394.3 869.8,403.6"/>
<polyline points="880.0,398.0 879.0,401.0" style="stroke-width:1"/>
<polyline points="893.0,405.0 892.0,408.0" style="stroke-width:1"/>
<polyline points="902.0,414.0 901.0,417.0" style="stroke-width:1"/>
<ellipse cx="873" cy="400" rx="1.5" ry="1.3" transform="rotate(0 873 400)" style="fill:#333"/>
<polyline points="873.2,400.3 850.3,416.4"/>
<text x="933.5" y="408.8" textLength="13.5" lengthAdjust="spacingAndGlyphs">87</text>
<polyline points="932.6,402.0 903.0,416.4"/>
<path d="M 895.3,503.9 Q 920,502 935,490 Q 949,477 949.6,454.6" style="stroke-width:1.3"/>
<path d="M 897,513.2 Q 925,511 941,495 Q 952,482 949.6,454.6" style="stroke-width:1.1"/>
<polyline points="895.3,503.9 897.0,513.2"/>
<polyline points="905.0,503.0 905.0,507.0" style="stroke-width:1"/>
<polyline points="916.0,500.0 916.0,504.0" style="stroke-width:1"/>
<polyline points="926.0,496.0 926.0,500.0" style="stroke-width:1"/>
<polyline points="936.0,489.0 936.0,493.0" style="stroke-width:1"/>
<polyline points="943.0,481.0 943.0,485.0" style="stroke-width:1"/>
<ellipse cx="899" cy="508" rx="1.6" ry="1.4" transform="rotate(0 899 508)"/>
<text x="924.1" y="471.6" textLength="13.6" lengthAdjust="spacingAndGlyphs">88</text>
<polyline points="931.0,475.0 929.2,493.7"/>
<polyline points="914.0,522.5 919.0,526.8" style="stroke-width:3"/>
<polyline class="d" points="886.8,491.1 912.0,520.5"/>
<polyline points="905.5,529.3 909.7,534.4" style="stroke-width:2.2"/>
<text x="854.5" y="532.7" textLength="34.0" lengthAdjust="spacingAndGlyphs">89(4)</text>
<polyline points="889.3,526.8 911.0,523.0"/>
<polygon points="885.0,543.0 903.8,543.0 903.8,550.6 885.0,550.6" style="stroke-width:1.4"/>
<polyline points="890.0,545.0 898.0,548.0" style="stroke-width:1.5"/>
<polyline points="893.6,551.4 888.5,561.6"/>
<polyline points="900.0,543.0 907.0,533.0"/>
<polygon points="796.5,551.0 796.5,533.5 791.9,533.5 791.9,551.0" style="stroke-width:1.2;fill:#ddd"/>
<polyline points="796.5,549.2 791.9,548.4" style="stroke-width:1.0;stroke:#444"/>
<polyline points="796.5,547.4 791.9,546.6" style="stroke-width:1.0;stroke:#444"/>
<polyline points="796.5,545.6 791.9,544.8" style="stroke-width:1.0;stroke:#444"/>
<polyline points="796.5,543.8 791.9,543.0" style="stroke-width:1.0;stroke:#444"/>
<polyline points="796.5,542.0 791.9,541.2" style="stroke-width:1.0;stroke:#444"/>
<polyline points="796.5,540.2 791.9,539.4" style="stroke-width:1.0;stroke:#444"/>
<polyline points="796.5,538.4 791.9,537.6" style="stroke-width:1.0;stroke:#444"/>
<polyline points="796.5,536.6 791.9,535.8" style="stroke-width:1.0;stroke:#444"/>
<path d="M 799.2,556.0 L 799.2,551.0 A 2.8 5.0 -90.0 0 0 789.2,551.0 L 789.2,556.0" style="stroke-width:1.4;fill:#fff"/>
<ellipse cx="794.2" cy="556" rx="2.8" ry="5" transform="rotate(-90.0 794.2 556)" style="stroke-width:1.6;fill:#fff"/>
<ellipse cx="794.2" cy="556" rx="1.2" ry="2.2" transform="rotate(-90.0 794.2 556)" style="stroke-width:1.2;fill:#444"/>
<polyline points="794.2,515.0 794.2,533.5" style="stroke-width:1.1"/>
<text x="717.8" y="560" textLength="33.2" lengthAdjust="spacingAndGlyphs">85(2)</text>
<polyline points="756.0,552.3 790.0,543.0"/>
<polygon points="963.9,506.0 970.6,503.5 977.4,506.0 977.4,511.0 970.6,513.0 963.9,511.0" style="stroke-width:1.4"/>
<polyline points="966.4,512.7 966.4,531.3 974.9,531.3 974.9,512.7" style="stroke-width:1.2"/>
<polyline points="966.4,515.0 974.9,516.0" style="stroke-width:1.1"/>
<polyline points="966.4,518.0 974.9,519.0" style="stroke-width:1.1"/>
<polyline points="966.4,521.0 974.9,522.0" style="stroke-width:1.1"/>
<polyline points="966.4,524.0 974.9,525.0" style="stroke-width:1.1"/>
<polyline points="966.4,527.0 974.9,528.0" style="stroke-width:1.1"/>
<polyline points="966.4,530.0 974.9,531.0" style="stroke-width:1.1"/>
<text x="936.9" y="524.2" textLength="12.7" lengthAdjust="spacingAndGlyphs">90</text>
<polyline points="953.0,515.8 963.2,511.5"/>
<polygon points="964.1,548.0 970.6,545.5 977.1,548.0 977.1,553.0 970.6,555.5 964.1,553.0" style="stroke-width:2.2"/>
<ellipse cx="970.6" cy="549" rx="3" ry="1.6" transform="rotate(0 970.6 549)" style="stroke-width:1.3"/>
<text x="930.1" y="556.5" textLength="11.9" lengthAdjust="spacingAndGlyphs">91</text>
<polyline points="944.5,553.1 964.0,553.1"/>
<polyline points="970.6,531.3 970.6,545.5" style="stroke-width:1"/>
<polyline points="970.6,555.0 970.6,562.0 979.1,568.5 979.1,583.0"/>
<ellipse cx="878.6" cy="601.5" rx="71.8" ry="41.2" transform="rotate(0 878.6 601.5)" style="stroke-width:1.6"/>
<ellipse cx="878.8" cy="601.3" rx="64.8" ry="37.1" transform="rotate(0 878.8 601.3)" style="stroke-width:1.3"/>
<ellipse cx="878.4" cy="598.8" rx="57.5" ry="33" transform="rotate(0 878.4 598.8)" style="stroke-width:1.3"/>
<path d="M 807.6,601.5 L 807.6,643.5 A 71 40.7 0 0 0 914.6,678.5"/>
<path d="M 830,613 Q 878.6,642 927,613" style="stroke-width:1.2"/>
<ellipse cx="878.6" cy="608.4" rx="21.8" ry="13.1" transform="rotate(0 878.6 608.4)" style="stroke-width:1.4"/>
<ellipse cx="878.6" cy="608.4" rx="15.3" ry="8.7" transform="rotate(0 878.6 608.4)" style="stroke-width:1.4"/>
<polyline points="836.9,612.2 836.9,586.5 838.8,585.6 863.0,597.7"/>
<polyline points="836.9,586.5 861.1,600.6"/>
<polyline points="857.0,605.0 857.0,617.0"/>
<polyline points="919.3,612.2 919.3,586.5 917.4,585.6 893.0,597.7"/>
<polyline points="919.3,586.5 895.1,600.6"/>
<polyline points="899.5,605.0 899.5,617.0"/>
<polyline points="834.0,614.2 840.0,612.0 860.0,620.0"/>
<polyline points="840.0,620.0 859.0,626.0"/>
<polyline points="923.0,614.2 917.0,612.0 897.0,620.0"/>
<polyline points="917.0,620.0 898.0,626.0"/>
<polyline points="864.5,619.5 864.5,628.7"/>
<polyline points="891.7,619.5 891.7,627.8"/>
<text x="760" y="630.7" textLength="14.4" lengthAdjust="spacingAndGlyphs">84</text>
<polyline points="778.6,626.6 820.8,643.1"/>
<polygon points="916.7,634.8 936.3,624.5 937.0,630.0 917.5,640.0" style="stroke-width:1.5"/>
<polyline points="920.0,635.0 932.0,629.0" style="stroke-width:1.5"/>
<polyline points="940.4,579.2 994.4,568.5"/>
<polyline points="994.4,568.5 1043.5,597.3"/>
<polyline points="914.6,643.0 914.6,678.5"/>
<polyline points="935.0,635.0 1041.8,599.0"/>
<polyline points="914.6,674.0 1041.8,629.5"/>
<path d="M 994.4,568.5 L 994.4,500.8 Q 996,478 1021.4,475.4 L 1077.3,504.2 Q 1084.1,508 1084.1,517.7 L 1084.1,595.6 Q 1080,610 1043.5,629.5 L 1043.5,534.7 Q 1046,508 1065.5,505.9 L 1077.3,504.2"/>
<ellipse cx="1063.8" cy="528.7" rx="14" ry="18" transform="rotate(0 1063.8 528.7)" style="stroke-width:1.4"/>
<path d="M 1052,520 A 11 15 0 0 1 1075,525" style="stroke-width:1.1"/>
<ellipse cx="979.1" cy="584.6" rx="3" ry="2" transform="rotate(0 979.1 584.6)" style="stroke-width:1.6"/>
<ellipse cx="984.2" cy="598.2" rx="3" ry="2" transform="rotate(0 984.2 598.2)" style="stroke-width:1.6"/>
<ellipse cx="970.6" cy="605" rx="3" ry="2" transform="rotate(0 970.6 605)" style="stroke-width:1.6"/>
<ellipse cx="1009.6" cy="627.8" rx="3" ry="2" transform="rotate(0 1009.6 627.8)" style="stroke-width:1.6"/>
<ellipse cx="1075.6" cy="589.7" rx="3" ry="2" transform="rotate(0 1075.6 589.7)" style="stroke-width:1.6"/>
<polyline class="d" points="985.0,581.2 1099.3,650.0"/>
<polyline class="d" points="1075.6,589.7 1130.0,621.0"/>
<polyline class="d" points="1058.7,526.2 1130.0,566.8"/>
<polyline points="1087.5,565.2 1130.0,534.7"/>
<polyline points="1009.6,627.8 1044.5,647.2"/>
<polyline class="d" points="974.0,477.1 999.4,492.3"/>
<polyline class="d" points="974.0,477.1 1021.4,450.0"/>
<ellipse cx="1110.4" cy="504.2" rx="7.5" ry="5.5" transform="rotate(-25 1110.4 504.2)" style="stroke-width:1.8"/>
<ellipse cx="1110.4" cy="504.2" rx="3.5" ry="2.2" transform="rotate(-25 1110.4 504.2)"/>
<polyline points="1092.6,521.1 1103.0,511.0" style="stroke-width:4.2"/>
<polyline class="d" points="1087.5,524.5 1092.6,521.0"/>
<text x="1066.3" y="467.8" textLength="40.7" lengthAdjust="spacingAndGlyphs">126(2)</text>
<polyline points="1085.0,472.0 1104.4,502.5"/>
<ellipse cx="1124.8" cy="531.3" rx="7.5" ry="5.5" transform="rotate(-25 1124.8 531.3)" style="stroke-width:1.8"/>
<ellipse cx="1124.8" cy="531.3" rx="3.5" ry="2.2" transform="rotate(-25 1124.8 531.3)"/>
<polyline points="1111.2,543.1 1119.0,535.0" style="stroke-width:4.2"/>
<polygon points="975.5,659.0 995.0,652.0 995.0,658.6 975.5,665.5" style="stroke-width:2"/>
<ellipse cx="981" cy="661" rx="1.3" ry="1.3" transform="rotate(0 981 661)"/>
<ellipse cx="989" cy="658" rx="1.3" ry="1.3" transform="rotate(0 989 658)"/>
<polyline points="1014.6,677.1 1022.9,681.2" style="stroke-width:3"/>
<polyline class="d" points="936.3,630.7 975.5,659.0"/>
<polyline class="d" points="995.0,660.0 1013.6,676.0"/>
<text x="960" y="701.9" textLength="34.0" lengthAdjust="spacingAndGlyphs">92(2)</text>
<polyline points="976.5,687.4 979.6,666.0"/>
<text x="1004.3" y="713.2" textLength="33.0" lengthAdjust="spacingAndGlyphs">93(4)</text>
<polyline points="1015.7,698.8 1018.8,684.3"/>
<ellipse cx="1046.6" cy="648.2" rx="3.1" ry="3.9" transform="rotate(-30 1046.6 648.2)" style="stroke-width:2;fill:#555"/>
<ellipse cx="1046.6" cy="648.2" rx="1.1" ry="1.4" transform="rotate(-30 1046.6 648.2)" style="stroke-width:0.8;fill:#ddd"/>
<polygon points="1084.4,666.7 1070.5,658.9 1067.5,664.1 1081.5,671.9" style="stroke-width:1.2;fill:#ddd"/>
<polyline points="1082.8,665.8 1079.2,670.6" style="stroke-width:1.0;stroke:#444"/>
<polyline points="1081.3,664.9 1077.6,669.8" style="stroke-width:1.0;stroke:#444"/>
<polyline points="1079.7,664.0 1076.1,668.9" style="stroke-width:1.0;stroke:#444"/>
<polyline points="1078.1,663.2 1074.5,668.0" style="stroke-width:1.0;stroke:#444"/>
<polyline points="1076.6,662.3 1072.9,667.1" style="stroke-width:1.0;stroke:#444"/>
<polyline points="1075.0,661.4 1071.4,666.3" style="stroke-width:1.0;stroke:#444"/>
<polyline points="1073.4,660.5 1069.8,665.4" style="stroke-width:1.0;stroke:#444"/>
<path d="M 1088.5,666.5 L 1085.5,664.8 A 2.9 5.2 -150.8 0 0 1080.4,673.8 L 1083.5,675.5" style="stroke-width:1.4;fill:#fff"/>
<ellipse cx="1086" cy="671" rx="2.9" ry="5.2" transform="rotate(-150.8 1086 671)" style="stroke-width:1.6;fill:#fff"/>
<polyline class="d" points="1050.7,652.4 1069.3,661.6"/>
<text x="1032.2" y="681.2" textLength="25.8" lengthAdjust="spacingAndGlyphs">91-1</text>
<polyline points="1044.5,668.9 1048.7,653.0"/>
<text x="1059" y="708" textLength="27.8" lengthAdjust="spacingAndGlyphs">91-2</text>
<polyline points="1073.4,693.6 1076.5,674.0"/>
<ellipse cx="878.6" cy="748" rx="71" ry="40" transform="rotate(0 878.6 748)" style="stroke-width:1.4"/>
<path d="M 807.6,748 L 807.6,756 A 71 40 0 0 0 949.6,756 L 949.6,748"/>
<ellipse cx="878.6" cy="725" rx="56.7" ry="33.5" transform="rotate(0 878.6 725)" style="stroke-width:1.4"/>
<ellipse cx="878.6" cy="728" rx="50" ry="28" transform="rotate(0 878.6 728)"/>
<path d="M 821.9,725 L 821.9,736 A 56.7 33.5 0 0 0 935.3,736 L 935.3,725"/>
<ellipse cx="878.6" cy="735.9" rx="6" ry="3.5" transform="rotate(0 878.6 735.9)"/>
<polygon points="841.0,707.0 845.0,706.0 861.0,726.0 858.0,727.0"/>
<polygon points="916.0,707.0 912.0,706.0 896.0,726.0 899.0,727.0"/>
<polyline points="850.0,746.0 858.0,748.0"/>
<polyline points="900.0,748.0 908.0,746.0"/>
<ellipse cx="814.6" cy="727.6" rx="3.2" ry="2.2" transform="rotate(0 814.6 727.6)"/>
<ellipse cx="831.1" cy="765.8" rx="3.2" ry="2.2" transform="rotate(0 831.1 765.8)"/>
<ellipse cx="895" cy="775" rx="3.2" ry="2.2" transform="rotate(0 895 775)"/>
<ellipse cx="941.4" cy="749.3" rx="3.2" ry="2.2" transform="rotate(0 941.4 749.3)"/>
<text x="973.4" y="777.1" textLength="12.4" lengthAdjust="spacingAndGlyphs">94</text>
<polyline points="972.4,769.9 940.4,762.7"/>
<polyline class="d" points="878.6,540.0 878.6,610.0"/>
<polyline class="d" points="878.6,688.5 878.6,733.8"/>
<polygon points="798.9,679.5 798.9,691.0 803.5,691.0 803.5,679.5" style="stroke-width:1.2;fill:#ddd"/>
<polyline points="798.9,681.3 803.5,682.1" style="stroke-width:1.0;stroke:#444"/>
<polyline points="798.9,683.1 803.5,683.9" style="stroke-width:1.0;stroke:#444"/>
<polyline points="798.9,684.9 803.5,685.7" style="stroke-width:1.0;stroke:#444"/>
<polyline points="798.9,686.7 803.5,687.5" style="stroke-width:1.0;stroke:#444"/>
<polyline points="798.9,688.5 803.5,689.3" style="stroke-width:1.0;stroke:#444"/>
<path d="M 796.6,674.5 L 796.6,679.5 A 2.5 4.6 90.0 0 0 805.8,679.5 L 805.8,674.5" style="stroke-width:1.4;fill:#fff"/>
<ellipse cx="801.2" cy="674.5" rx="2.5" ry="4.6" transform="rotate(90.0 801.2 674.5)" style="stroke-width:1.6;fill:#fff"/>
<ellipse cx="801.2" cy="674.5" rx="1.1" ry="2.1" transform="rotate(90.0 801.2 674.5)" style="stroke-width:1.2;fill:#444"/>
<polyline points="802.3,690.5 802.3,709.0 815.7,717.3"/>
<text x="728.5" y="680" textLength="48.0" lengthAdjust="spacingAndGlyphs">94-1(6)</text>
<polyline points="778.8,676.2 797.0,683.5"/>
<ellipse cx="879.2" cy="825.6" rx="58.4" ry="33" transform="rotate(0 879.2 825.6)" style="stroke-width:2.2"/>
<ellipse cx="879.2" cy="825.6" rx="56.5" ry="31.5" transform="rotate(0 879.2 825.6)" style="stroke-width:0.8"/>
<text x="958" y="849.7" textLength="14.0" lengthAdjust="spacingAndGlyphs">95</text>
<polyline points="956.7,842.0 932.5,838.3"/>
<polyline points="870.3,842.0 870.3,950.0"/>
<polyline points="886.8,842.0 886.8,950.0"/>
<ellipse cx="878.6" cy="842" rx="8.2" ry="3.6" transform="rotate(0 878.6 842)" style="stroke-width:1.3"/>
<ellipse cx="878.6" cy="842" rx="3" ry="1.5" transform="rotate(0 878.6 842)" style="fill:#333"/>
<polyline points="870.3,845.0 886.8,846.5" style="stroke-width:1.6"/>
<polyline points="870.3,848.0 886.8,849.5" style="stroke-width:1.6"/>
<polyline points="870.3,851.0 886.8,852.5" style="stroke-width:1.6"/>
<polyline points="870.3,854.0 886.8,855.5" style="stroke-width:1.6"/>
<polyline points="870.3,857.0 886.8,858.5" style="stroke-width:1.6"/>
<polyline points="870.3,860.0 886.8,861.5" style="stroke-width:1.6"/>
<polyline points="870.3,863.0 886.8,864.5" style="stroke-width:1.6"/>
<polyline points="870.3,866.0 886.8,867.5" style="stroke-width:1.6"/>
<polyline points="870.3,869.0 886.8,870.5" style="stroke-width:1.6"/>
<polyline points="870.3,934.0 886.8,935.5" style="stroke-width:1.6"/>
<polyline points="870.3,937.0 886.8,938.5" style="stroke-width:1.6"/>
<polyline points="870.3,940.0 886.8,941.5" style="stroke-width:1.6"/>
<polyline points="870.3,943.0 886.8,944.5" style="stroke-width:1.6"/>
<polyline points="870.3,946.0 886.8,947.5" style="stroke-width:1.6"/>
<polyline points="870.3,949.0 886.8,950.5" style="stroke-width:1.6"/>
<path d="M 870.3,950 A 8.2 3.6 0 0 0 886.8,950"/>
<text x="919.8" y="919.5" textLength="14.0" lengthAdjust="spacingAndGlyphs">96</text>
<polyline points="918.6,914.4 879.2,905.6"/>
<ellipse cx="878" cy="967.5" rx="15.9" ry="6" transform="rotate(0 878 967.5)" style="stroke-width:1.4"/>
<ellipse cx="878" cy="967.5" rx="4" ry="2" transform="rotate(0 878 967.5)" style="stroke-width:1.8"/>
<path d="M 862.1,967.5 L 862.1,981 A 15.9 6 0 0 0 893.9,981 L 893.9,967.5"/>
<text x="928.7" y="980.5" textLength="14.0" lengthAdjust="spacingAndGlyphs">97</text>
<polyline points="927.5,974.1 894.4,965.2"/>
<polyline class="d" points="878.0,951.3 878.0,963.0"/>
<polyline class="d" points="878.0,990.6 878.0,1018.6"/>
<ellipse cx="879.2" cy="1009.7" rx="23.5" ry="14" transform="rotate(0 879.2 1009.7)" style="stroke-width:1.5"/>
<ellipse cx="879.2" cy="1007" rx="13.5" ry="8" transform="rotate(0 879.2 1007)" style="stroke-width:1.3"/>
<path d="M 855.7,1009.7 L 855.7,1016 A 23.5 14 0 0 0 889.4,1027"/>
<polyline points="846.2,995.7 856.0,990.0 869.0,993.0"/>
<polyline points="846.2,995.7 846.2,1008.0 856.0,1015.0"/>
<polyline points="856.0,990.0 856.0,1003.0 846.2,1008.0"/>
<polyline points="892.0,1016.0 1036.0,1096.0"/>
<polyline points="884.0,1027.0 1030.0,1108.0"/>
<polyline points="895.0,1022.0 1023.0,1091.0 1025.0,1094.5 1022.0,1096.0 891.0,1026.0" style="stroke-width:1.2"/>
<text x="984.6" y="1018.6" textLength="17.8" lengthAdjust="spacingAndGlyphs">101</text>
<polyline points="983.3,1022.4 960.5,1046.5"/>
<ellipse cx="834.8" cy="1014.8" rx="2.9" ry="3.8" transform="rotate(-30 834.8 1014.8)" style="stroke-width:2;fill:#555"/>
<ellipse cx="834.8" cy="1014.8" rx="1.0" ry="1.3" transform="rotate(-30 834.8 1014.8)" style="stroke-width:0.8;fill:#ddd"/>
<text x="810.6" y="981.7" textLength="14.0" lengthAdjust="spacingAndGlyphs">98</text>
<polyline points="818.3,985.6 833.5,1009.7"/>
<polygon points="807.4,1033.8 819.4,1027.8 817.6,1024.2 805.6,1030.2" style="stroke-width:1.2;fill:#ddd"/>
<polyline points="809.0,1033.0 808.0,1029.0" style="stroke-width:1.0;stroke:#444"/>
<polyline points="810.6,1032.2 809.6,1028.2" style="stroke-width:1.0;stroke:#444"/>
<polyline points="812.2,1031.4 811.2,1027.4" style="stroke-width:1.0;stroke:#444"/>
<polyline points="813.9,1030.6 812.8,1026.6" style="stroke-width:1.0;stroke:#444"/>
<polyline points="815.5,1029.8 814.4,1025.8" style="stroke-width:1.0;stroke:#444"/>
<polyline points="817.1,1028.9 816.0,1025.0" style="stroke-width:1.0;stroke:#444"/>
<path d="M 804.4,1037.8 L 808.4,1035.7 A 2.3 4.2 -26.6 0 0 804.6,1028.2 L 800.6,1030.2" style="stroke-width:1.4;fill:#fff"/>
<ellipse cx="802.5" cy="1034" rx="2.3" ry="4.2" transform="rotate(-26.6 802.5 1034)" style="stroke-width:1.6;fill:#fff"/>
<ellipse cx="802.5" cy="1034" rx="1.1" ry="1.9" transform="rotate(-26.6 802.5 1034)" style="stroke-width:1.2;fill:#444"/>
<text x="780.2" y="1003.3" textLength="12.7" lengthAdjust="spacingAndGlyphs">99</text>
<polyline points="790.3,1007.1 803.0,1030.0"/>
<polyline points="832.2,1037.6 842.4,1032.5" style="stroke-width:3.4"/>
<text x="844.9" y="1078.3" textLength="20.3" lengthAdjust="spacingAndGlyphs">100</text>
<polyline points="851.3,1061.7 837.3,1040.2"/>
<polyline class="d" points="819.5,1025.0 833.5,1017.3"/>
<polyline class="d" points="838.6,1012.2 846.2,1008.4"/>
<polyline class="d" points="842.4,1031.3 860.2,1021.1"/>
<polyline points="1037.4,1097.4 1053.4,1105.4"/>
<polyline points="1032.0,1106.7 1034.0,1111.4 1049.4,1120.0"/>
<polyline points="1033.4,1101.4 1033.4,1110.0"/>
<ellipse cx="1052.7" cy="1112.7" rx="4.5" ry="7" transform="rotate(-30 1052.7 1112.7)" style="stroke-width:1.4"/>
<ellipse cx="1052.7" cy="1112.7" rx="1.8" ry="2.6" transform="rotate(0 1052.7 1112.7)" style="stroke-width:1.5"/>
<polygon points="1058.0,1114.0 1061.0,1111.0 1067.0,1112.0 1069.0,1119.0 1066.0,1124.0 1060.0,1123.0" style="stroke-width:2.2"/>
<text x="1083.4" y="1084.7" textLength="19.4" lengthAdjust="spacingAndGlyphs">102</text>
<polyline points="1090.8,1089.4 1068.0,1112.0"/>
<polyline points="1071.4,1123.4 1080.0,1128.0" style="stroke-width:4"/>
<polyline points="1080.0,1125.0 1086.0,1122.0 1134.0,1148.5"/>
<polyline points="1080.0,1125.0 1080.0,1134.0 1127.0,1169.0"/>
<polyline points="1086.0,1122.0 1086.0,1130.0 1130.0,1156.0" style="stroke-width:1.1"/>
<ellipse cx="1134.8" cy="1158.7" rx="9.5" ry="11.5" transform="rotate(-20 1134.8 1158.7)" style="stroke-width:1.4"/>
<text x="1142.8" y="1112.7" textLength="19.2" lengthAdjust="spacingAndGlyphs">103</text>
<polyline points="1150.8,1116.7 1125.5,1141.4"/>
<polyline points="957.3,120.0 1183.8,248.3"/>
<polyline points="955.5,122.8 1181.0,251.0"/>
<polyline points="954.6,120.0 1183.8,250.1" style="stroke-width:0.8;stroke:#777"/>
<polyline points="952.0,117.0 957.3,120.0 955.5,122.8"/>
<polyline points="982.8,105.5 982.8,114.6" style="stroke-width:3.4"/>
<ellipse cx="982.8" cy="104.5" rx="2.6" ry="1.6" transform="rotate(0 982.8 104.5)"/>
<polyline points="982.8,114.6 982.8,132.8" style="stroke-width:1"/>
<text x="995.5" y="91.8" textLength="40.0" lengthAdjust="spacingAndGlyphs">133(3)</text>
<polyline points="1001.9,95.5 984.6,105.5"/>
<text x="1052.8" y="141.9" textLength="19.1" lengthAdjust="spacingAndGlyphs">134</text>
<polyline points="1048.2,139.1 1019.1,154.6"/>
<path d="M 952.5,148.5 L 1217,298.5 M 948,158.5 L 1211.5,307.5"/>
<ellipse cx="1214.5" cy="303.2" rx="4.8" ry="6.2" transform="rotate(-30 1214.5 303.2)" style="stroke-width:1.4"/>
<path d="M 952.5,148.5 A 4.5 5.5 -30 0 0 948,158.5" style="stroke-width:1.3"/>
<polyline points="955.0,153.0 1210.0,298.0" style="stroke-width:1.8"/>
<polyline class="d" points="958.2,122.8 958.2,149.1"/>
<text x="947.3" y="201.9" textLength="19.1" lengthAdjust="spacingAndGlyphs">135</text>
<polyline points="967.3,195.5 1002.8,184.6"/>
<path d="M 1107.4,83.5 L 1155,110 Q 1162,114 1166,124 Q 1169,130 1176,134 L 1212,153.5 M 1106,91.5 L 1151,116.5 Q 1156,120 1159,129 Q 1162,136 1169,140 L 1207,161"/>
<ellipse cx="1107" cy="87.5" rx="3.8" ry="4" transform="rotate(0 1107 87.5)" style="stroke-width:1.3"/>
<ellipse cx="1210" cy="157.3" rx="3.5" ry="4.2" transform="rotate(-30 1210 157.3)" style="stroke-width:1.4"/>
<text x="1201" y="113.7" textLength="19.0" lengthAdjust="spacingAndGlyphs">132</text>
<polyline points="1196.5,108.2 1159.2,121.0"/>
<polyline class="d" points="1213.7,158.5 1256.0,181.3"/>
<path d="M 1253.5,169.5 L 1264.5,162.7 L 1273.8,167 L 1274.6,183.9 Q 1275,195 1273,209 L 1276,214 M 1253.5,169.5 L 1253.5,189 Q 1251,195 1251,200.8 L 1250.1,217.7 Q 1246,226 1248.4,232 L 1254.3,244.8 L 1269.6,244.8 L 1272,238"/>
<polyline points="1253.5,169.5 1262.0,174.0 1273.8,167.0"/>
<polyline points="1262.0,174.0 1262.0,190.0"/>
<polyline points="1258.5,166.0 1268.5,171.0" style="stroke-width:1"/>
<ellipse cx="1267.9" cy="190.6" rx="2.3" ry="3.2" transform="rotate(0 1267.9 190.6)" style="stroke-width:1.1"/>
<ellipse cx="1256.9" cy="179.6" rx="1.8" ry="2.4" transform="rotate(0 1256.9 179.6)" style="stroke-width:1.1"/>
<ellipse cx="1276.3" cy="226.2" rx="11.4" ry="13" transform="rotate(-15 1276.3 226.2)" style="stroke-width:1.5"/>
<ellipse cx="1277.5" cy="227" rx="4.5" ry="5.5" transform="rotate(0 1277.5 227)" style="stroke-width:1.4"/>
<polyline points="1251.0,218.0 1270.0,213.0"/>
<polyline points="1254.0,237.0 1275.0,239.0"/>
<ellipse cx="1257.7" cy="238" rx="2" ry="2.3" transform="rotate(0 1257.7 238)"/>
<text x="1314.4" y="199.1" textLength="19.5" lengthAdjust="spacingAndGlyphs">130</text>
<polyline points="1311.0,195.7 1284.0,216.0"/>
<polygon points="1221.9,203.2 1240.8,192.9 1238.2,188.1 1219.3,198.4" style="stroke-width:1.2;fill:#ddd"/>
<polyline points="1223.5,202.4 1221.5,197.2" style="stroke-width:1.0;stroke:#444"/>
<polyline points="1225.0,201.5 1223.1,196.3" style="stroke-width:1.0;stroke:#444"/>
<polyline points="1226.6,200.7 1224.7,195.4" style="stroke-width:1.0;stroke:#444"/>
<polyline points="1228.2,199.8 1226.3,194.6" style="stroke-width:1.0;stroke:#444"/>
<polyline points="1229.8,198.9 1227.9,193.7" style="stroke-width:1.0;stroke:#444"/>
<polyline points="1231.4,198.1 1229.4,192.9" style="stroke-width:1.0;stroke:#444"/>
<polyline points="1233.0,197.2 1231.0,192.0" style="stroke-width:1.0;stroke:#444"/>
<polyline points="1234.5,196.3 1232.6,191.1" style="stroke-width:1.0;stroke:#444"/>
<polyline points="1236.1,195.5 1234.2,190.3" style="stroke-width:1.0;stroke:#444"/>
<polyline points="1237.7,194.6 1235.8,189.4" style="stroke-width:1.0;stroke:#444"/>
<path d="M 1219.9,206.9 L 1223.0,205.2 A 2.8 5.0 -28.6 0 0 1218.2,196.4 L 1215.1,198.1" style="stroke-width:1.4;fill:#fff"/>
<ellipse cx="1217.5" cy="202.5" rx="2.8" ry="5" transform="rotate(-28.6 1217.5 202.5)" style="stroke-width:1.6;fill:#fff"/>
<polyline class="d" points="1239.0,190.6 1255.2,181.3"/>
<polyline points="1192.5,193.2 1214.5,200.8"/>
<text x="1171" y="196.4" textLength="18.2" lengthAdjust="spacingAndGlyphs">131</text>
<polyline class="d" points="1249.3,213.5 1238.2,207.6 1238.2,319.3 1218.8,308.3"/>
<polyline class="d" points="1256.9,242.3 1245.9,246.5 1300.9,277.0 1291.6,283.7"/>
<polyline points="1264.5,299.0 1290.7,283.7" style="stroke-width:4.6;stroke:#555"/>
<ellipse cx="1254.3" cy="302.4" rx="6.5" ry="8.5" transform="rotate(-20 1254.3 302.4)" style="stroke-width:1.5"/>
<ellipse cx="1254.8" cy="303" rx="2.5" ry="3" transform="rotate(0 1254.8 303)" style="stroke-width:1.2"/>
<path d="M 1250,309 L 1262,340 L 1270,341 L 1261,313" style="stroke-width:1.5"/>
<text x="1291.6" y="309.1" textLength="19.4" lengthAdjust="spacingAndGlyphs">129</text>
<polyline points="1288.2,310.0 1265.3,324.4"/>
<polyline points="983.8,265.6 1027.0,240.8 1030.0,240.2 1035.4,244.4 1035.4,271.0"/>
<polyline points="983.8,265.6 983.8,301.0 989.9,305.0 1017.2,290.6"/>
<polyline points="986.8,267.0 986.8,302.0"/>
<polyline points="986.8,267.0 1030.0,243.0"/>
<ellipse cx="992.2" cy="271" rx="2" ry="2.3" transform="rotate(0 992.2 271)" style="stroke-width:1.3"/>
<ellipse cx="1030.8" cy="249.7" rx="2" ry="2.3" transform="rotate(0 1030.8 249.7)" style="stroke-width:1.3"/>
<ellipse cx="992.2" cy="299.7" rx="2" ry="2.3" transform="rotate(0 992.2 299.7)" style="stroke-width:1.3"/>
<ellipse cx="1011.1" cy="274" rx="10" ry="13.5" transform="rotate(-10 1011.1 274)" style="stroke-width:1.6"/>
<ellipse cx="1013.5" cy="273.5" rx="7.5" ry="11" transform="rotate(-10 1013.5 273.5)" style="stroke-width:1.2"/>
<polyline points="1013.0,259.5 1070.0,291.0"/>
<polyline points="1015.0,289.0 1060.0,313.5"/>
<polyline points="1043.7,277.0 1043.7,302.0"/>
<path d="M 1050,283 L 1050,306 M 1053,285 L 1053,308 M 1056,287 L 1056,309.5 M 1059,288 L 1059,311" style="stroke-width:1.3"/>
<ellipse cx="1064.9" cy="302.8" rx="6.5" ry="9.5" transform="rotate(-25 1064.9 302.8)" style="stroke-width:1.5"/>
<ellipse cx="1065.5" cy="303" rx="2.4" ry="3.4" transform="rotate(0 1065.5 303)" style="stroke-width:1.4"/>
<text x="938.3" y="314.1" textLength="19.7" lengthAdjust="spacingAndGlyphs">125</text>
<polyline points="961.8,309.6 988.4,296.0"/>
<polygon points="1033.9,320.2 1024.4,315.2 1022.6,318.8 1032.1,323.7" style="stroke-width:1.2;fill:#ddd"/>
<polyline points="1032.3,319.3 1029.8,322.5" style="stroke-width:1.0;stroke:#444"/>
<polyline points="1030.7,318.5 1028.2,321.7" style="stroke-width:1.0;stroke:#444"/>
<polyline points="1029.1,317.7 1026.6,320.9" style="stroke-width:1.0;stroke:#444"/>
<polyline points="1027.5,316.8 1025.0,320.0" style="stroke-width:1.0;stroke:#444"/>
<path d="M 1039.0,320.1 L 1035.0,318.0 A 2.4 4.4 -152.6 0 0 1031.0,325.8 L 1035.0,327.9" style="stroke-width:1.4;fill:#fff"/>
<ellipse cx="1037" cy="324" rx="2.4" ry="4.4" transform="rotate(-152.6 1037 324)" style="stroke-width:1.6;fill:#fff"/>
<ellipse cx="1037" cy="324" rx="1.1" ry="2.0" transform="rotate(-152.6 1037 324)" style="stroke-width:1.2;fill:#444"/>
<text x="996.7" y="365.7" textLength="41.7" lengthAdjust="spacingAndGlyphs">229(5)</text>
<polyline points="1012.6,351.3 1033.1,327.0"/>
<polyline class="d" points="992.2,299.7 1024.0,317.2"/>
<path d="M 1083.3,332.7 L 1073.3,327.2 A 8 18 29 0 1 1090.7,295.8 L 1100.7,301.3" style="stroke-width:1.5"/>
<ellipse cx="1092" cy="317" rx="8" ry="18" transform="rotate(29 1092 317)" style="stroke-width:1.5;fill:#fff"/>
<ellipse cx="1092" cy="317" rx="6.5" ry="15" transform="rotate(29 1092 317)" style="stroke-width:1.2"/>
<ellipse cx="1115" cy="331.6" rx="11.5" ry="15.5" transform="rotate(15 1115 331.6)" style="stroke-width:5;fill:#555"/>
<ellipse cx="1118" cy="331" rx="6" ry="10" transform="rotate(15 1118 331)" style="stroke-width:1.5;fill:#fff"/>
<polyline points="1126.5,331.6 1129.5,330.1" style="stroke-width:1.6"/>
<polyline points="1125.4,338.3 1128.4,336.8" style="stroke-width:1.6"/>
<polyline points="1122.2,343.7 1125.2,342.2" style="stroke-width:1.6"/>
<polyline points="1117.6,346.7 1120.6,345.2" style="stroke-width:1.6"/>
<polyline points="1112.4,346.7 1115.4,345.2" style="stroke-width:1.6"/>
<polyline points="1107.8,343.7 1110.8,342.2" style="stroke-width:1.6"/>
<polyline points="1104.6,338.3 1107.6,336.8" style="stroke-width:1.6"/>
<polyline points="1103.5,331.6 1106.5,330.1" style="stroke-width:1.6"/>
<polyline points="1104.6,324.9 1107.6,323.4" style="stroke-width:1.6"/>
<polyline points="1107.8,319.5 1110.8,318.0" style="stroke-width:1.6"/>
<polyline points="1112.4,316.5 1115.4,315.0" style="stroke-width:1.6"/>
<polyline points="1117.6,316.5 1120.6,315.0" style="stroke-width:1.6"/>
<polyline points="1122.2,319.5 1125.2,318.0" style="stroke-width:1.6"/>
<polyline points="1125.4,324.9 1128.4,323.4" style="stroke-width:1.6"/>
<path d="M 1138.8,367.1 L 1129.8,362.1 A 8.5 19 29 0 1 1148.2,328.9 L 1157.2,333.9" style="stroke-width:1.5"/>
<ellipse cx="1148" cy="350.5" rx="8.5" ry="19" transform="rotate(29 1148 350.5)" style="stroke-width:1.5;fill:#fff"/>
<ellipse cx="1148" cy="350.5" rx="7" ry="15.5" transform="rotate(29 1148 350.5)" style="stroke-width:1.2"/>
<ellipse cx="1148" cy="350.5" rx="6" ry="13.5" transform="rotate(29 1148 350.5)" style="stroke-width:0.9"/>
<polyline class="d" points="1143.8,348.3 1169.5,363.4 974.0,477.1"/>
<polyline points="1138.4,487.3 1218.4,418.3" style="stroke-width:1.2"/>
<polyline points="1127.6,474.7 1207.6,405.7" style="stroke-width:1.2"/>
<path d="M 1138.4,487.3 Q 1137.7,476.9 1127.6,474.7" style="stroke-width:1.3"/>
<path d="M 1141.1,485.0 Q 1140.4,474.6 1130.2,472.4" style="stroke-width:1.3"/>
<path d="M 1143.8,482.7 Q 1143.0,472.3 1132.9,470.1" style="stroke-width:1.3"/>
<path d="M 1146.4,480.4 Q 1145.7,470.0 1135.6,467.8" style="stroke-width:1.3"/>
<path d="M 1149.1,478.1 Q 1148.4,467.7 1138.2,465.5" style="stroke-width:1.3"/>
<path d="M 1151.8,475.8 Q 1151.0,465.4 1140.9,463.2" style="stroke-width:1.3"/>
<path d="M 1154.4,473.5 Q 1153.7,463.1 1143.6,460.9" style="stroke-width:1.3"/>
<path d="M 1157.1,471.2 Q 1156.4,460.8 1146.2,458.6" style="stroke-width:1.3"/>
<path d="M 1159.8,468.9 Q 1159.0,458.5 1148.9,456.3" style="stroke-width:1.3"/>
<path d="M 1162.4,466.6 Q 1161.7,456.2 1151.6,454.0" style="stroke-width:1.3"/>
<path d="M 1165.1,464.3 Q 1164.4,453.9 1154.2,451.7" style="stroke-width:1.3"/>
<path d="M 1167.8,462.0 Q 1167.0,451.6 1156.9,449.4" style="stroke-width:1.3"/>
<path d="M 1170.4,459.7 Q 1169.7,449.3 1159.6,447.1" style="stroke-width:1.3"/>
<path d="M 1173.1,457.4 Q 1172.4,447.0 1162.2,444.8" style="stroke-width:1.3"/>
<path d="M 1175.8,455.1 Q 1175.0,444.7 1164.9,442.5" style="stroke-width:1.3"/>
<path d="M 1178.4,452.8 Q 1177.7,442.4 1167.6,440.2" style="stroke-width:1.3"/>
<path d="M 1181.1,450.5 Q 1180.4,440.1 1170.2,437.9" style="stroke-width:1.3"/>
<path d="M 1183.8,448.2 Q 1183.0,437.8 1172.9,435.6" style="stroke-width:1.3"/>
<path d="M 1186.4,445.9 Q 1185.7,435.5 1175.6,433.3" style="stroke-width:1.3"/>
<path d="M 1189.1,443.6 Q 1188.4,433.2 1178.2,431.0" style="stroke-width:1.3"/>
<path d="M 1191.8,441.3 Q 1191.0,430.9 1180.9,428.7" style="stroke-width:1.3"/>
<path d="M 1194.4,439.0 Q 1193.7,428.6 1183.6,426.4" style="stroke-width:1.3"/>
<path d="M 1197.1,436.7 Q 1196.4,426.3 1186.2,424.1" style="stroke-width:1.3"/>
<path d="M 1199.8,434.4 Q 1199.0,424.0 1188.9,421.8" style="stroke-width:1.3"/>
<path d="M 1202.4,432.1 Q 1201.7,421.7 1191.6,419.5" style="stroke-width:1.3"/>
<path d="M 1205.1,429.8 Q 1204.4,419.4 1194.2,417.2" style="stroke-width:1.3"/>
<path d="M 1207.8,427.5 Q 1207.0,417.1 1196.9,414.9" style="stroke-width:1.3"/>
<path d="M 1210.4,425.2 Q 1209.7,414.8 1199.6,412.6" style="stroke-width:1.3"/>
<path d="M 1213.1,422.9 Q 1212.4,412.5 1202.2,410.3" style="stroke-width:1.3"/>
<path d="M 1215.8,420.6 Q 1215.0,410.2 1204.9,408.0" style="stroke-width:1.3"/>
<path d="M 1218.4,418.3 Q 1217.7,407.9 1207.6,405.7" style="stroke-width:1.3"/>
<polyline points="1166.5,506.2 1248.5,434.2" style="stroke-width:1.2"/>
<polyline points="1155.5,493.8 1237.5,421.8" style="stroke-width:1.2"/>
<path d="M 1166.5,506.2 Q 1165.7,495.9 1155.5,493.8" style="stroke-width:1.3"/>
<path d="M 1169.2,503.8 Q 1168.4,493.5 1158.3,491.4" style="stroke-width:1.3"/>
<path d="M 1171.9,501.4 Q 1171.1,491.1 1161.0,489.0" style="stroke-width:1.3"/>
<path d="M 1174.7,499.0 Q 1173.9,488.7 1163.7,486.6" style="stroke-width:1.3"/>
<path d="M 1177.4,496.6 Q 1176.6,486.3 1166.5,484.2" style="stroke-width:1.3"/>
<path d="M 1180.1,494.2 Q 1179.3,483.9 1169.2,481.8" style="stroke-width:1.3"/>
<path d="M 1182.9,491.8 Q 1182.1,481.5 1171.9,479.4" style="stroke-width:1.3"/>
<path d="M 1185.6,489.4 Q 1184.8,479.1 1174.7,477.0" style="stroke-width:1.3"/>
<path d="M 1188.3,487.0 Q 1187.5,476.7 1177.4,474.6" style="stroke-width:1.3"/>
<path d="M 1191.1,484.6 Q 1190.3,474.3 1180.1,472.2" style="stroke-width:1.3"/>
<path d="M 1193.8,482.2 Q 1193.0,471.9 1182.9,469.8" style="stroke-width:1.3"/>
<path d="M 1196.5,479.8 Q 1195.7,469.5 1185.6,467.4" style="stroke-width:1.3"/>
<path d="M 1199.3,477.4 Q 1198.5,467.1 1188.3,465.0" style="stroke-width:1.3"/>
<path d="M 1202.0,475.0 Q 1201.2,464.7 1191.1,462.6" style="stroke-width:1.3"/>
<path d="M 1204.7,472.6 Q 1203.9,462.3 1193.8,460.2" style="stroke-width:1.3"/>
<path d="M 1207.5,470.2 Q 1206.7,459.9 1196.5,457.8" style="stroke-width:1.3"/>
<path d="M 1210.2,467.8 Q 1209.4,457.5 1199.3,455.4" style="stroke-width:1.3"/>
<path d="M 1212.9,465.4 Q 1212.1,455.1 1202.0,453.0" style="stroke-width:1.3"/>
<path d="M 1215.7,463.0 Q 1214.9,452.7 1204.7,450.6" style="stroke-width:1.3"/>
<path d="M 1218.4,460.6 Q 1217.6,450.3 1207.5,448.2" style="stroke-width:1.3"/>
<path d="M 1221.1,458.2 Q 1220.3,447.9 1210.2,445.8" style="stroke-width:1.3"/>
<path d="M 1223.9,455.8 Q 1223.1,445.5 1212.9,443.4" style="stroke-width:1.3"/>
<path d="M 1226.6,453.4 Q 1225.8,443.1 1215.7,441.0" style="stroke-width:1.3"/>
<path d="M 1229.3,451.0 Q 1228.5,440.7 1218.4,438.6" style="stroke-width:1.3"/>
<path d="M 1232.1,448.6 Q 1231.3,438.3 1221.1,436.2" style="stroke-width:1.3"/>
<path d="M 1234.8,446.2 Q 1234.0,435.9 1223.9,433.8" style="stroke-width:1.3"/>
<path d="M 1237.5,443.8 Q 1236.7,433.5 1226.6,431.4" style="stroke-width:1.3"/>
<path d="M 1240.3,441.4 Q 1239.5,431.1 1229.3,429.0" style="stroke-width:1.3"/>
<path d="M 1243.0,439.0 Q 1242.2,428.7 1232.1,426.6" style="stroke-width:1.3"/>
<path d="M 1245.7,436.6 Q 1244.9,426.3 1234.8,424.2" style="stroke-width:1.3"/>
<path d="M 1248.5,434.2 Q 1247.7,423.9 1237.5,421.8" style="stroke-width:1.3"/>
<ellipse cx="1128.7" cy="487.5" rx="5" ry="6.5" transform="rotate(-40 1128.7 487.5)" style="stroke-width:1.6"/>
<ellipse cx="1128.7" cy="487.5" rx="2" ry="3" transform="rotate(-40 1128.7 487.5)"/>
<ellipse cx="1157" cy="506.5" rx="5" ry="6.5" transform="rotate(-40 1157 506.5)" style="stroke-width:1.6"/>
<ellipse cx="1157" cy="506.5" rx="2" ry="3" transform="rotate(-40 1157 506.5)"/>
<path d="M 1213,412 L 1219,406 Q 1225,401 1226,407 Q 1226,413 1219,414" style="stroke-width:1.8"/>
<path d="M 1243,428 L 1248,422 Q 1254,417 1255,423 Q 1255,429 1248,430" style="stroke-width:1.8"/>
<polyline class="d" points="1119.0,496.7 1124.0,492.5"/>
<polyline class="d" points="1134.5,523.0 1154.0,509.4"/>
<polyline class="d" points="1250.0,420.0 1263.0,406.0"/>
<path d="M 1241.7,381.8 L 1234,387 Q 1229,391 1232,394 Q 1235,396 1238,392" style="stroke-width:1.8"/>
<polyline points="1241.7,381.8 1262.1,366.2" style="stroke-width:4.4;stroke:#555"/>
<path d="M 1270.9,397.4 L 1263,403 Q 1258,407 1261,410 Q 1264,412 1267,408" style="stroke-width:1.8"/>
<polyline points="1270.9,397.4 1289.4,381.8" style="stroke-width:4.4;stroke:#555"/>
<polygon points="1303.0,364.0 1307.9,361.5 1312.5,365.0 1312.5,370.0 1307.9,373.0 1303.0,370.0" style="stroke-width:2;fill:#555"/>
<ellipse cx="1327.4" cy="348.7" rx="3.8" ry="4.2" transform="rotate(-30 1327.4 348.7)" style="stroke-width:2;fill:#555"/>
<ellipse cx="1327.4" cy="348.7" rx="1.3" ry="1.5" transform="rotate(-30 1327.4 348.7)" style="stroke-width:0.8;fill:#ddd"/>
<ellipse cx="1327.4" cy="348.7" rx="1.5" ry="1.6" transform="rotate(0 1327.4 348.7)" style="fill:#333"/>
<ellipse cx="1351.7" cy="327.3" rx="3.8" ry="4.7" transform="rotate(-30 1351.7 327.3)" style="stroke-width:2;fill:#555"/>
<ellipse cx="1351.7" cy="327.3" rx="1.3" ry="1.6" transform="rotate(-30 1351.7 327.3)" style="stroke-width:0.8;fill:#ddd"/>
<polyline class="d" points="1292.3,379.9 1303.0,371.0"/>
<polyline class="d" points="1312.0,365.0 1323.0,352.0"/>
<polyline class="d" points="1332.0,345.0 1347.0,331.0"/>
<text x="1326.4" y="409.1" textLength="40.9" lengthAdjust="spacingAndGlyphs">128(2)</text>
<polyline points="1320.5,401.3 1271.9,400.3"/>
<text x="1362.4" y="359.4" textLength="57.6" lengthAdjust="spacingAndGlyphs">128-1(2)</text>
<polyline points="1360.5,353.6 1333.2,350.6"/>
<text x="1388.7" y="318.2" textLength="55.1" lengthAdjust="spacingAndGlyphs">128-2(4)</text>
<polyline points="1385.1,312.9 1358.4,325.3"/>
<text x="1121.9" y="419.8" textLength="39.9" lengthAdjust="spacingAndGlyphs">127(2)</text>
<polyline points="1138.4,421.7 1156.0,453.9"/>
<polyline class="d" points="1169.6,363.3 1080.0,414.9"/>
<polyline class="d" points="1058.7,526.2 1140.0,572.0 1263.1,500.6 1276.7,508.4"/>
<path d="M 1289.3,537.2 L 1278.3,531.2 A 8 18 29 0 1 1295.7,499.8 L 1306.7,505.8" style="stroke-width:1.5"/>
<ellipse cx="1298" cy="521.5" rx="8" ry="18" transform="rotate(29 1298 521.5)" style="stroke-width:1.5;fill:#fff"/>
<ellipse cx="1298" cy="521.5" rx="6.5" ry="15" transform="rotate(29 1298 521.5)" style="stroke-width:1.2"/>
<ellipse cx="1321.7" cy="533.7" rx="13" ry="16" transform="rotate(15 1321.7 533.7)" style="stroke-width:5;fill:#555"/>
<ellipse cx="1325" cy="534" rx="7.5" ry="11" transform="rotate(15 1325 534)" style="stroke-width:1.6;fill:#fff"/>
<polyline points="1335.7,533.7 1338.2,532.5" style="stroke-width:1.8"/>
<polyline points="1334.6,540.2 1337.1,539.0" style="stroke-width:1.8"/>
<polyline points="1331.6,545.7 1334.1,544.5" style="stroke-width:1.8"/>
<polyline points="1327.1,549.4 1329.6,548.2" style="stroke-width:1.8"/>
<polyline points="1321.7,550.7 1324.2,549.5" style="stroke-width:1.8"/>
<polyline points="1316.3,549.4 1318.8,548.2" style="stroke-width:1.8"/>
<polyline points="1311.8,545.7 1314.3,544.5" style="stroke-width:1.8"/>
<polyline points="1308.8,540.2 1311.3,539.0" style="stroke-width:1.8"/>
<polyline points="1307.7,533.7 1310.2,532.5" style="stroke-width:1.8"/>
<polyline points="1308.8,527.2 1311.3,526.0" style="stroke-width:1.8"/>
<polyline points="1311.8,521.7 1314.3,520.5" style="stroke-width:1.8"/>
<polyline points="1316.3,518.0 1318.8,516.8" style="stroke-width:1.8"/>
<polyline points="1321.7,516.7 1324.2,515.5" style="stroke-width:1.8"/>
<polyline points="1327.1,518.0 1329.6,516.8" style="stroke-width:1.8"/>
<polyline points="1331.6,521.7 1334.1,520.5" style="stroke-width:1.8"/>
<polyline points="1334.6,527.2 1337.1,526.0" style="stroke-width:1.8"/>
<text x="1308.8" y="457.5" textLength="41.1" lengthAdjust="spacingAndGlyphs">124(2)</text>
<polyline points="1326.3,459.0 1322.5,517.7"/>
<path d="M 1344.8,571.4 L 1332.8,564.9 A 10 21 29 0 1 1353.2,528.1 L 1365.2,534.6" style="stroke-width:1.5"/>
<ellipse cx="1355" cy="553" rx="10" ry="21" transform="rotate(29 1355 553)" style="stroke-width:1.5;fill:#fff"/>
<ellipse cx="1355" cy="553" rx="4.5" ry="9" transform="rotate(29 1355 553)" style="stroke-width:1.2"/>
<text x="1358.3" y="474.3" textLength="41.1" lengthAdjust="spacingAndGlyphs">123(2)</text>
<polyline points="1381.9,478.9 1349.9,537.5"/>
<ellipse cx="1377.3" cy="565.7" rx="9" ry="15" transform="rotate(20 1377.3 565.7)" style="stroke-width:2.2"/>
<ellipse cx="1377.3" cy="565.7" rx="6" ry="11" transform="rotate(20 1377.3 565.7)" style="stroke-width:1.2"/>
<polyline points="1388.3,565.7 1389.8,564.7" style="stroke-width:2.4"/>
<polyline points="1386.8,574.2 1388.3,573.2" style="stroke-width:2.4"/>
<polyline points="1382.8,580.4 1384.3,579.4" style="stroke-width:2.4"/>
<polyline points="1377.3,582.7 1378.8,581.7" style="stroke-width:2.4"/>
<polyline points="1371.8,580.4 1373.3,579.4" style="stroke-width:2.4"/>
<polyline points="1367.8,574.2 1369.3,573.2" style="stroke-width:2.4"/>
<polyline points="1366.3,565.7 1367.8,564.7" style="stroke-width:2.4"/>
<polyline points="1367.8,557.2 1369.3,556.2" style="stroke-width:2.4"/>
<polyline points="1371.8,551.0 1373.3,550.0" style="stroke-width:2.4"/>
<polyline points="1377.3,548.7 1378.8,547.7" style="stroke-width:2.4"/>
<polyline points="1382.8,551.0 1384.3,550.0" style="stroke-width:2.4"/>
<polyline points="1386.8,557.2 1388.3,556.2" style="stroke-width:2.4"/>
<text x="1410.9" y="485" textLength="19.8" lengthAdjust="spacingAndGlyphs">122</text>
<polyline points="1420.8,488.8 1387.2,549.7"/>
<ellipse cx="1397.9" cy="577.1" rx="10" ry="12.5" transform="rotate(15 1397.9 577.1)" style="stroke-width:1.8"/>
<ellipse cx="1399" cy="577.5" rx="5" ry="6.5" transform="rotate(15 1399 577.5)" style="stroke-width:2"/>
<text x="1432.2" y="509.3" textLength="18.3" lengthAdjust="spacingAndGlyphs">121</text>
<polyline points="1437.5,512.4 1407.8,565.7"/>
<polyline class="d" points="1263.0,501.0 1275.2,507.0"/>
<polyline class="d" points="1296.6,520.0 1481.9,625.7"/>
<path d="M 1421.4,594.9 Q 1430,580 1446.7,577.2 L 1454.4,583.8 L 1454.4,614.7 L 1423.6,666.4 L 1406,656.5 L 1406,640 L 1412.6,642.2 L 1412.6,618 L 1421.4,622.4 Z" style="stroke-width:1.4"/>
<polyline points="1423.6,624.0 1423.6,666.4" style="stroke-width:3;stroke:#aaa"/>
<polyline points="1423.0,600.0 1423.0,622.0"/>
<ellipse cx="1437.9" cy="601.5" rx="4" ry="5" transform="rotate(0 1437.9 601.5)" style="stroke-width:1.3"/>
<ellipse cx="1448.9" cy="596" rx="1.6" ry="1.8" transform="rotate(0 1448.9 596)"/>
<ellipse cx="1429.1" cy="607" rx="1.8" ry="2" transform="rotate(0 1429.1 607)"/>
<ellipse cx="1410.4" cy="652.1" rx="2.2" ry="2.8" transform="rotate(0 1410.4 652.1)"/>
<text x="1437.9" y="691.7" textLength="19.8" lengthAdjust="spacingAndGlyphs">118</text>
<polyline points="1441.2,675.2 1424.7,646.6"/>
<polyline points="1464.3,603.7 1470.0,607.5" style="stroke-width:3.4"/>
<ellipse cx="1471" cy="608.5" rx="2.2" ry="2.8" transform="rotate(0 1471 608.5)"/>
<polyline class="d" points="1448.9,596.0 1464.3,603.7"/>
<text x="1457.7" y="561.8" textLength="56.3" lengthAdjust="spacingAndGlyphs">118-1(2)</text>
<polyline points="1483.0,567.3 1467.6,604.8"/>
<ellipse cx="1388.3" cy="665.3" rx="3.6" ry="4.6" transform="rotate(-30 1388.3 665.3)" style="stroke-width:2;fill:#555"/>
<ellipse cx="1388.3" cy="665.3" rx="1.2" ry="1.5" transform="rotate(-30 1388.3 665.3)" style="stroke-width:0.8;fill:#ddd"/>
<text x="1399.4" y="714.8" textLength="20.9" lengthAdjust="spacingAndGlyphs">119</text>
<polyline points="1408.2,697.2 1392.7,670.8"/>
<polygon points="1355.6,688.6 1374.6,677.8 1371.4,672.2 1352.4,682.9" style="stroke-width:1.2;fill:#ddd"/>
<polyline points="1357.2,687.7 1354.7,681.7" style="stroke-width:1.0;stroke:#444"/>
<polyline points="1358.8,686.8 1356.3,680.8" style="stroke-width:1.0;stroke:#444"/>
<polyline points="1360.3,685.9 1357.8,679.9" style="stroke-width:1.0;stroke:#444"/>
<polyline points="1361.9,685.0 1359.4,679.0" style="stroke-width:1.0;stroke:#444"/>
<polyline points="1363.5,684.2 1361.0,678.1" style="stroke-width:1.0;stroke:#444"/>
<polyline points="1365.0,683.3 1362.5,677.2" style="stroke-width:1.0;stroke:#444"/>
<polyline points="1366.6,682.4 1364.1,676.3" style="stroke-width:1.0;stroke:#444"/>
<polyline points="1368.2,681.5 1365.7,675.4" style="stroke-width:1.0;stroke:#444"/>
<polyline points="1369.7,680.6 1367.2,674.5" style="stroke-width:1.0;stroke:#444"/>
<polyline points="1371.3,679.7 1368.8,673.7" style="stroke-width:1.0;stroke:#444"/>
<polyline points="1372.9,678.8 1370.3,672.8" style="stroke-width:1.0;stroke:#444"/>
<path d="M 1353.7,692.3 L 1356.8,690.6 A 3.0 5.5 -29.6 0 0 1351.3,681.0 L 1348.3,682.7" style="stroke-width:1.4;fill:#fff"/>
<ellipse cx="1351" cy="687.5" rx="3.0" ry="5.5" transform="rotate(-29.6 1351 687.5)" style="stroke-width:1.6;fill:#fff"/>
<text x="1364.1" y="734.7" textLength="19.8" lengthAdjust="spacingAndGlyphs">120</text>
<polyline points="1372.9,719.3 1355.3,693.9"/>
<polyline points="1374.0,674.1 1382.8,668.6"/>
<polyline points="1395.0,663.1 1404.9,657.6"/>
<path d="M 1543.6,555.2 L 1564.5,560.7 Q 1582,610 1578.8,640 Q 1574,700 1517.1,742.4 L 1495.1,666.4 L 1486.3,664.2 Q 1480,640 1484.1,625.7 L 1497.3,619.1 L 1532.6,580.5 L 1522.6,578.3 Z" style="stroke-width:1.4"/>
<polyline points="1497.3,619.1 1564.5,560.7"/>
<path d="M 1497.3,620 Q 1490,640 1495.1,666.4"/>
<ellipse cx="1510.5" cy="643.3" rx="1.8" ry="2.2" transform="rotate(0 1510.5 643.3)"/>
<text x="1593.1" y="539.8" textLength="18.7" lengthAdjust="spacingAndGlyphs">117</text>
<polyline points="1601.9,545.3 1568.9,603.7"/>
<polyline class="d" points="1510.5,643.3 1582.1,682.9"/>
<ellipse cx="1585.4" cy="687.3" rx="5" ry="6.5" transform="rotate(-30 1585.4 687.3)" style="stroke-width:2"/>
<ellipse cx="1585.4" cy="687.3" rx="2" ry="2.5" transform="rotate(0 1585.4 687.3)"/>
<text x="1595.3" y="649.9" textLength="19.8" lengthAdjust="spacingAndGlyphs">116</text>
<polyline points="1604.1,655.4 1588.7,680.7"/>
<polyline points="1603.0,696.1 1629.4,711.5" style="stroke-width:4.6;stroke:#555"/>
<ellipse cx="1640.4" cy="718.1" rx="6" ry="7" transform="rotate(-20 1640.4 718.1)" style="stroke-width:1.5"/>
<path d="M 1636,724 L 1622.8,751 L 1628,754 L 1642,726" style="stroke-width:1.5"/>
<text x="1590.9" y="746.8" textLength="19.8" lengthAdjust="spacingAndGlyphs">115</text>
<polyline points="1604.1,736.9 1616.2,709.3"/>
<path d="M 1216.2,597.5 L 1229.9,591 L 1229.9,632.1 Q 1226,645 1214.1,653.7 L 1185.3,668.8 L 1185.3,650.8 L 1216.2,633.5 Z" style="stroke-width:1.5"/>
<ellipse cx="1197" cy="654.5" rx="9" ry="2" transform="rotate(-28 1197 654.5)" style="stroke-width:1.4"/>
<ellipse cx="1219.8" cy="601.1" rx="1" ry="1" transform="rotate(0 1219.8 601.1)" style="fill:#333"/>
<ellipse cx="1226.3" cy="598.2" rx="1" ry="1" transform="rotate(0 1226.3 598.2)" style="fill:#333"/>
<ellipse cx="1215.5" cy="645.8" rx="1" ry="1" transform="rotate(0 1215.5 645.8)" style="fill:#333"/>
<text x="1161.5" y="610.5" textLength="19.5" lengthAdjust="spacingAndGlyphs">112</text>
<polyline points="1185.3,606.9 1216.2,613.4"/>
<polyline points="1226.3,598.2 1237.8,604.7 1276.7,582.4 1284.6,584.6"/>
<path d="M 1286,587 L 1291.1,578.8 L 1296,587 Z" style="stroke-width:1.4"/>
<polyline points="1282.5,588.0 1282.5,611.0 1288.0,616.0"/>
<polyline points="1300.5,586.0 1300.5,611.0 1294.0,616.0"/>
<polyline points="1288.0,590.0 1288.0,615.0"/>
<polyline points="1282.5,588.0 1288.0,590.0 1300.5,586.0"/>
<polyline points="1287.0,616.0 1287.0,624.9 1297.0,624.9 1297.0,616.0"/>
<polyline points="1290.4,625.0 1290.4,632.1" style="stroke-width:1"/>
<polyline points="1292.6,625.0 1292.6,632.1" style="stroke-width:1"/>
<text x="1220.6" y="573" textLength="41.0" lengthAdjust="spacingAndGlyphs">113(2)</text>
<polyline points="1263.8,568.0 1290.4,578.8"/>
<polyline points="1299.7,596.1 1312.7,603.3"/>
<polyline points="1312.7,603.3 1321.0,607.6" style="stroke-width:3.2"/>
<text x="1322" y="641.4" textLength="40.0" lengthAdjust="spacingAndGlyphs">114(4)</text>
<polyline points="1332.1,626.3 1319.9,609.8"/>
<path d="M 1268.1,668.1 L 1288,659 L 1295.4,659.4 L 1295.4,675.3 L 1275.3,686.1 L 1268.1,681 Z" style="stroke-width:1.4"/>
<polyline points="1275.3,672.0 1295.4,662.0"/>
<polyline points="1275.3,672.0 1275.3,686.1"/>
<ellipse cx="1264.5" cy="681.5" rx="2.5" ry="2.2" transform="rotate(0 1264.5 681.5)" style="stroke-width:1.3"/>
<path d="M 1295.4,660 Q 1305,656 1314.1,651" style="stroke-width:1.1"/>
<polyline points="1289.0,689.0 1296.2,693.3" style="stroke-width:3.4"/>
<polyline class="d" points="1215.5,645.8 1268.1,675.3"/>
<polyline class="d" points="1276.7,681.8 1289.0,689.0"/>
<ellipse cx="1213.4" cy="671" rx="3.4" ry="4.2" transform="rotate(-30 1213.4 671)" style="stroke-width:2;fill:#555"/>
<ellipse cx="1213.4" cy="671" rx="1.2" ry="1.5" transform="rotate(-30 1213.4 671)" style="stroke-width:0.8;fill:#ddd"/>
<polygon points="1245.7,686.1 1234.1,680.0 1231.9,684.0 1243.5,690.2" style="stroke-width:1.2;fill:#ddd"/>
<polyline points="1244.1,685.3 1241.2,689.0" style="stroke-width:1.0;stroke:#444"/>
<polyline points="1242.5,684.4 1239.6,688.1" style="stroke-width:1.0;stroke:#444"/>
<polyline points="1240.9,683.6 1238.0,687.3" style="stroke-width:1.0;stroke:#444"/>
<polyline points="1239.3,682.7 1236.4,686.4" style="stroke-width:1.0;stroke:#444"/>
<polyline points="1237.7,681.9 1234.9,685.6" style="stroke-width:1.0;stroke:#444"/>
<polyline points="1236.1,681.1 1233.3,684.7" style="stroke-width:1.0;stroke:#444"/>
<path d="M 1251.3,686.3 L 1246.8,683.9 A 2.6 4.8 -152.0 0 0 1242.3,692.4 L 1246.7,694.7" style="stroke-width:1.4;fill:#fff"/>
<ellipse cx="1249" cy="690.5" rx="2.6" ry="4.8" transform="rotate(-152.0 1249 690.5)" style="stroke-width:1.6;fill:#fff"/>
<ellipse cx="1249" cy="690.5" rx="1.2" ry="2.2" transform="rotate(-152.0 1249 690.5)" style="stroke-width:1.2;fill:#444"/>
<polyline points="1191.8,658.7 1209.0,668.0"/>
<polyline points="1217.7,673.8 1233.5,682.5"/>
<text x="1150" y="694.5" textLength="39.0" lengthAdjust="spacingAndGlyphs">111(2)</text>
<polyline points="1191.0,686.1 1210.5,675.3"/>
<text x="1180.2" y="717" textLength="40.4" lengthAdjust="spacingAndGlyphs">110(2)</text>
<polyline points="1222.7,705.5 1243.6,693.3"/>
<polyline class="d" points="1075.6,589.7 1185.3,650.8"/>
<polyline class="d" points="985.0,581.2 1102.2,643.0"/>
<polyline points="1102.2,643.0 1102.2,803.1"/>
<polyline class="d" points="1102.2,803.1 1172.3,843.5"/>
<polyline points="1172.3,843.5 1172.3,811.5"/>
<path d="M 1146.4,816 L 1176.9,803 L 1181.5,806.5 L 1158.6,820 Z M 1146.4,816 L 1146.4,818.5 L 1158.6,823 L 1181.5,809 L 1181.5,806.5 M 1158.6,820 L 1158.6,823" style="stroke-width:1.4"/>
<path d="M 1159.4,812 L 1159.4,797 Q 1162,791 1167,792 L 1169.3,797 L 1169.3,808" style="stroke-width:1.4"/>
<ellipse cx="1165" cy="803" rx="1.8" ry="2.3" transform="rotate(0 1165 803)"/>
<text x="1098.4" y="849.6" textLength="19.0" lengthAdjust="spacingAndGlyphs">104</text>
<polyline points="1120.5,844.2 1155.5,817.6"/>
<polygon points="1170.2,746.5 1170.2,757.5 1174.4,757.5 1174.4,746.5" style="stroke-width:1.2;fill:#ddd"/>
<polyline points="1170.2,748.3 1174.4,749.1" style="stroke-width:1.0;stroke:#444"/>
<polyline points="1170.2,750.1 1174.4,750.9" style="stroke-width:1.0;stroke:#444"/>
<polyline points="1170.2,751.9 1174.4,752.7" style="stroke-width:1.0;stroke:#444"/>
<polyline points="1170.2,753.7 1174.4,754.5" style="stroke-width:1.0;stroke:#444"/>
<polyline points="1170.2,755.5 1174.4,756.3" style="stroke-width:1.0;stroke:#444"/>
<path d="M 1168.1,742.0 L 1168.1,746.5 A 2.3 4.2 90.0 0 0 1176.5,746.5 L 1176.5,742.0" style="stroke-width:1.4;fill:#fff"/>
<ellipse cx="1172.3" cy="742" rx="2.3" ry="4.2" transform="rotate(90.0 1172.3 742)" style="stroke-width:1.6;fill:#fff"/>
<ellipse cx="1172.3" cy="742" rx="1.1" ry="1.9" transform="rotate(90.0 1172.3 742)" style="stroke-width:1.2;fill:#444"/>
<polyline points="1172.3,757.0 1172.3,795.0" style="stroke-width:1"/>
<text x="1109.8" y="744.4" textLength="41.2" lengthAdjust="spacingAndGlyphs">106(2)</text>
<polyline points="1152.5,741.3 1167.7,744.4"/>
<ellipse cx="1172.3" cy="775.6" rx="5" ry="2.8" transform="rotate(0 1172.3 775.6)" style="stroke-width:2.4"/>
<text x="1109" y="777.9" textLength="40.5" lengthAdjust="spacingAndGlyphs">105(2)</text>
<polyline points="1151.7,772.6 1166.2,774.9"/>
<polyline points="1196.0,806.9 1204.3,802.3 1212.7,806.9 1204.3,811.5 1196.0,806.9"/>
<polyline points="1196.0,806.9 1196.0,834.3 1205.1,838.5 1212.7,833.6 1212.7,806.9"/>
<polyline points="1204.3,811.5 1205.1,838.5"/>
<polyline points="1198.5,815.0 1198.5,832.0"/>
<polyline points="1201.0,816.0 1201.0,833.0"/>
<ellipse cx="1204.3" cy="806.9" rx="1.6" ry="1.2" transform="rotate(0 1204.3 806.9)"/>
<ellipse cx="1209.7" cy="831.3" rx="1.5" ry="1.8" transform="rotate(0 1209.7 831.3)"/>
<text x="1181.5" y="893" textLength="19.0" lengthAdjust="spacingAndGlyphs">107</text>
<polyline points="1196.7,877.8 1205.1,838.9"/>
<ellipse cx="1220.3" cy="837.4" rx="2.7" ry="3.6" transform="rotate(-30 1220.3 837.4)" style="stroke-width:2;fill:#555"/>
<ellipse cx="1220.3" cy="837.4" rx="1.0" ry="1.2" transform="rotate(-30 1220.3 837.4)" style="stroke-width:0.8;fill:#ddd"/>
<path d="M 1229,840 L 1236,844 A 2.5 4 -30 0 1 1233,850 L 1226,846" style="stroke-width:1.5"/>
<ellipse cx="1236" cy="847" rx="2" ry="3.5" transform="rotate(-30 1236 847)"/>
<ellipse cx="1250.8" cy="854.9" rx="3.4" ry="4.2" transform="rotate(-40 1250.8 854.9)" style="stroke-width:2;fill:#555"/>
<ellipse cx="1250.8" cy="854.9" rx="1.2" ry="1.5" transform="rotate(-40 1250.8 854.9)" style="stroke-width:0.8;fill:#ddd"/>
<polyline points="1212.7,832.8 1217.0,835.0"/>
<polyline points="1224.0,839.0 1228.0,842.0"/>
<polyline points="1239.0,848.0 1247.0,852.0"/>
<text x="1253.9" y="800.8" textLength="19.8" lengthAdjust="spacingAndGlyphs">108</text>
<polyline points="1262.3,804.6 1234.8,840.4"/>
<text x="1258.4" y="830" textLength="42.6" lengthAdjust="spacingAndGlyphs">109(2)</text>
<polyline points="1267.6,835.9 1253.9,852.6"/>
<ellipse cx="877.3" cy="367" rx="3" ry="3.8" transform="rotate(-30 877.3 367)" style="stroke-width:2.6;fill:#555"/>
<text x="886.7" y="350.2" textLength="40.9" lengthAdjust="spacingAndGlyphs">137(4)</text>
<polyline points="908.0,355.6 881.3,364.4"/>
<polyline class="d" points="882.0,370.0 895.6,377.0"/>
<polygon points="907.6,381.8 897.0,375.4 895.0,378.6 905.6,385.0" style="stroke-width:1.2;fill:#ddd"/>
<polyline points="906.0,380.9 903.4,383.7" style="stroke-width:1.0;stroke:#444"/>
<polyline points="904.5,379.9 901.8,382.8" style="stroke-width:1.0;stroke:#444"/>
<polyline points="903.0,379.0 900.3,381.8" style="stroke-width:1.0;stroke:#444"/>
<polyline points="901.4,378.1 898.8,380.9" style="stroke-width:1.0;stroke:#444"/>
<polyline points="899.9,377.1 897.2,380.0" style="stroke-width:1.0;stroke:#444"/>
<path d="M 912.0,382.3 L 908.6,380.2 A 2.1 3.8 -148.7 0 0 904.6,386.7 L 908.0,388.7" style="stroke-width:1.4;fill:#fff"/>
<ellipse cx="910" cy="385.5" rx="2.1" ry="3.8" transform="rotate(-148.7 910 385.5)" style="stroke-width:1.6;fill:#fff"/>
<ellipse cx="910" cy="385.5" rx="0.9" ry="1.7" transform="rotate(-148.7 910 385.5)" style="stroke-width:1.2;fill:#444"/>
<text x="927.6" y="371.6" textLength="40.8" lengthAdjust="spacingAndGlyphs">138(2)</text>
<polyline points="927.6,371.6 913.0,384.0"/>
</svg></body></html>
